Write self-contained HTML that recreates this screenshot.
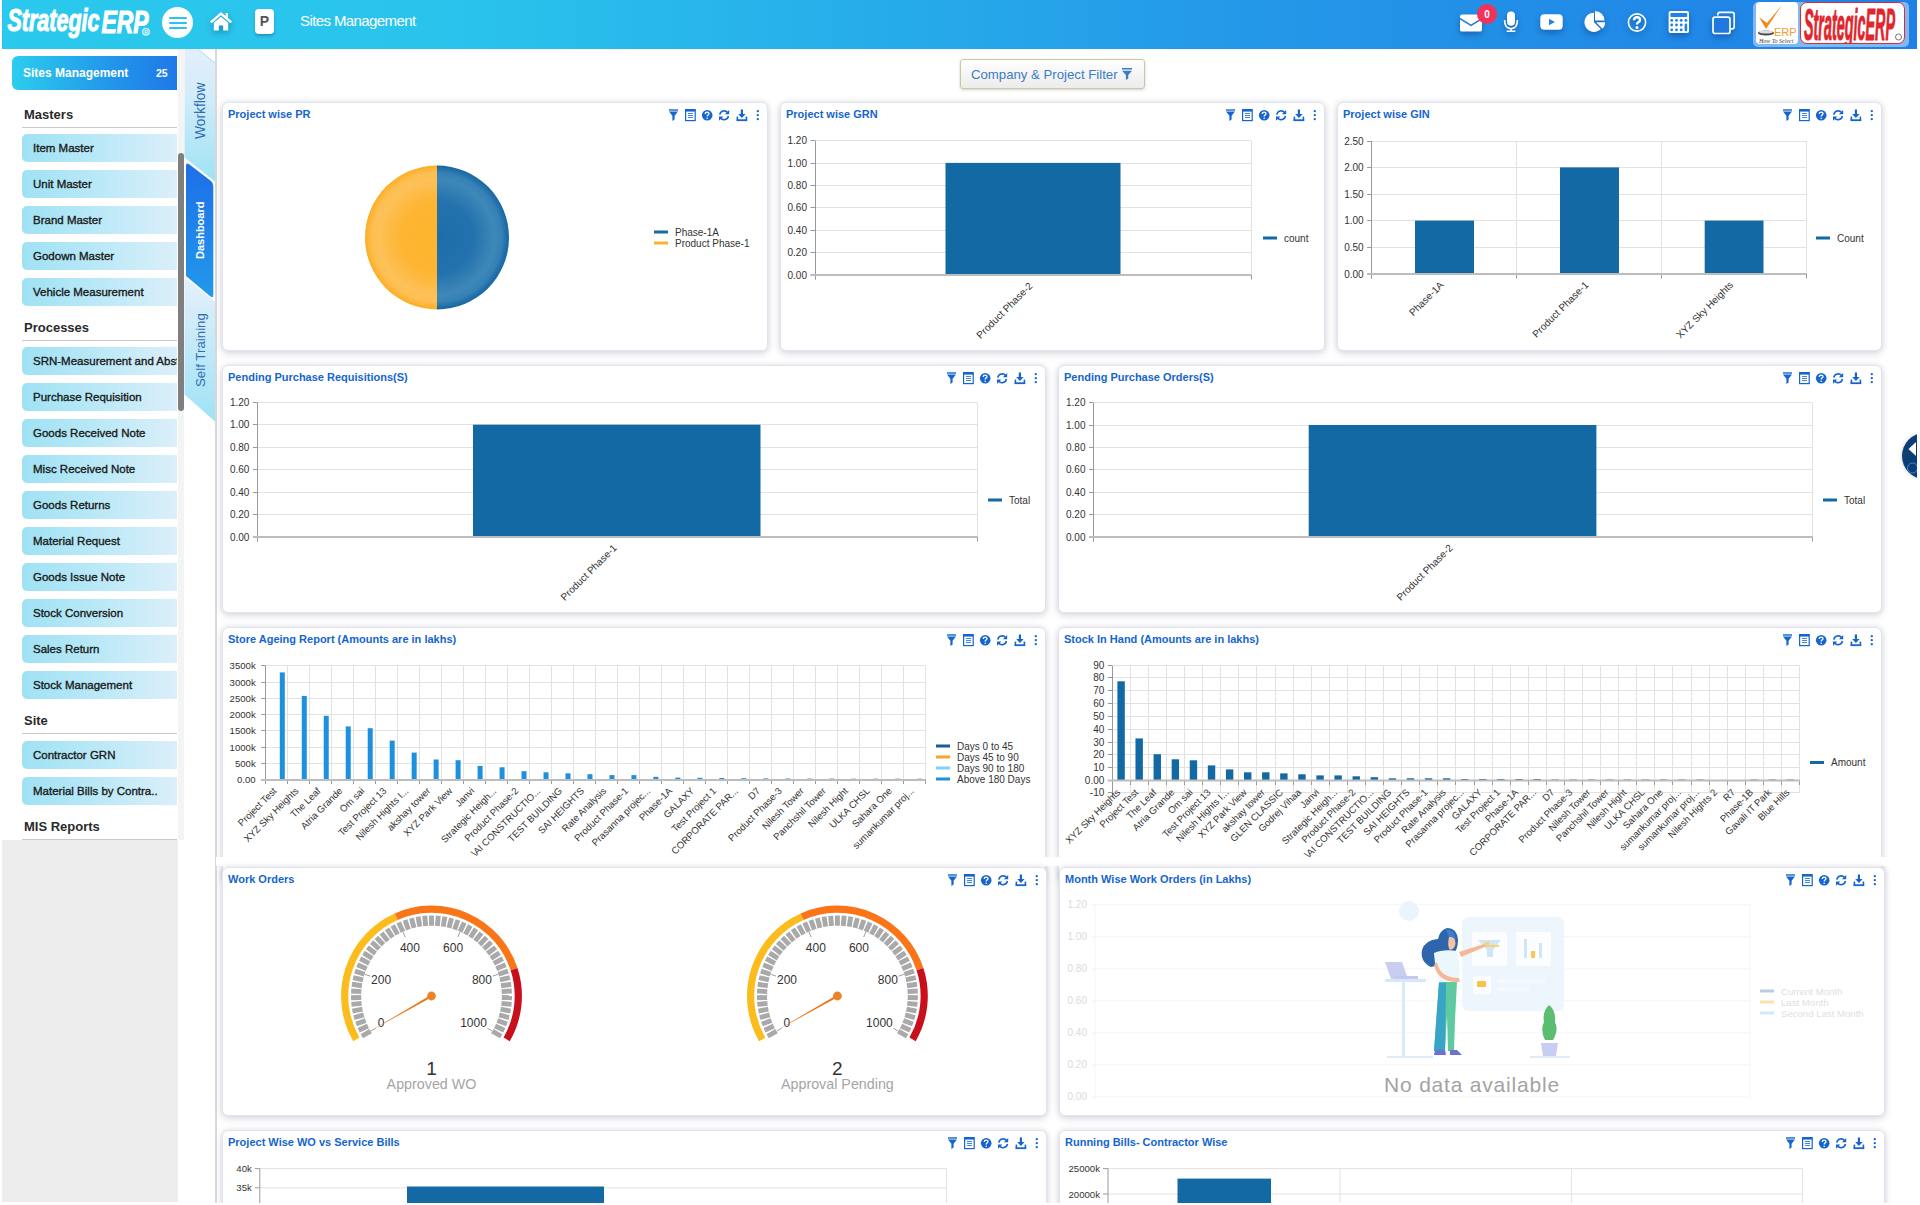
<!DOCTYPE html><html><head><meta charset='utf-8'><style>
*{box-sizing:border-box;margin:0;padding:0}
html,body{width:1920px;height:1205px;overflow:hidden;background:#fff;font-family:"Liberation Sans", sans-serif;position:relative}
.abs{position:absolute}
#hdr{position:absolute;left:2px;top:0;width:1915px;height:49px;background:linear-gradient(90deg,#2bc9ed 0%,#29c2ec 25%,#2498e8 65%,#1f80e6 100%);}
.hi{position:absolute;filter:drop-shadow(0 3px 3px rgba(0,30,90,.35))}
.sm{position:absolute;left:12px;top:56px;width:165px;height:34px;border-radius:6px 0 0 6px;background:linear-gradient(90deg,#2ccdee,#2196ea 60%,#1f78e8);color:#fff;font:bold 13px "Liberation Sans", sans-serif;}
.hd{position:absolute;left:22px;width:155px;height:21px;border-bottom:1px solid #c9c9c9;font:bold 13px "Liberation Sans", sans-serif;color:#2a2a2a;padding-left:2px;line-height:15px}
.it{position:absolute;left:22px;width:155px;height:28px;border-radius:5px 0 0 5px;background:linear-gradient(90deg,#9fe2f4 0%,#b8e8f7 45%,#dbeffa 100%);font:11.5px "Liberation Sans", sans-serif;-webkit-text-stroke:0.35px #1a1a1a;color:#1a1a1a;padding-left:11px;line-height:28px;white-space:nowrap;overflow:hidden}
.card{position:absolute;background:#fff;border:1px solid #e1e3f1;border-radius:6px;box-shadow:0 3px 8px rgba(20,20,50,0.12),0 0 5px 1px rgba(20,20,60,0.07);overflow:hidden}
.ct{position:absolute;left:5px;top:5px;font:bold 11px "Liberation Sans", sans-serif;color:#1565cf;white-space:nowrap}
</style></head><body>
<div id='hdr'></div>
<svg class='abs' style='left:0;top:0' width='160' height='45' viewBox='0 0 160 45'><text x='7.5' y='31.2' font-family='Liberation Sans' font-weight='bold' font-style='italic' font-size='31' fill='#fff' stroke='#fff' stroke-width='1.1' textLength='92' lengthAdjust='spacingAndGlyphs'>Strategic</text><text x='101.5' y='33.3' font-family='Liberation Sans' font-weight='bold' font-style='italic' font-size='30.5' fill='#fff' stroke='#fff' stroke-width='1.1' textLength='47' lengthAdjust='spacingAndGlyphs'>ERP</text><circle cx='146' cy='31.8' r='3.3' stroke='#fff' stroke-width='1.1' fill='none'/><text x='146' y='33.6' text-anchor='middle' font-family='Liberation Sans' font-weight='bold' font-size='5' fill='#fff'>R</text></svg>
<div class='abs' style='left:162px;top:7px;width:31px;height:31px;border-radius:50%;background:#fff'><div class='abs' style='left:6.5px;top:9.5px;width:18px;height:2.6px;border-radius:2px;background:#2bc3ec'></div><div class='abs' style='left:6.5px;top:14.5px;width:18px;height:2.6px;border-radius:2px;background:#2bc3ec'></div><div class='abs' style='left:6.5px;top:19.5px;width:18px;height:2.6px;border-radius:2px;background:#2bc3ec'></div></div>
<svg class='hi' style='left:209px;top:11px' width='24' height='20' viewBox='0 0 24 20'><path d='M12 1 L1 10.5 L2.6 12.2 L12 4.2 L21.4 12.2 L23 10.5 L19 7 L19 2 L16.6 2 L16.6 4.9 Z' fill='#fff'/><path d='M4.8 11.8 L12 5.8 L19.2 11.8 L19.2 19.5 L14.2 19.5 L14.2 14.5 L9.8 14.5 L9.8 19.5 L4.8 19.5 Z' fill='#fff'/></svg>
<div class='abs' style='left:255px;top:9px;width:19px;height:25px;border-radius:4px;background:#fff;box-shadow:0 2px 3px rgba(0,40,90,.3);font:bold 14px "Liberation Sans", sans-serif;color:#555;text-align:center;line-height:25px'>P</div>
<div class='abs' style='left:300px;top:12px;font:15px "Liberation Sans", sans-serif;color:#fff;white-space:nowrap;letter-spacing:-0.6px'>Sites Management</div>
<svg class='hi' style='left:1459px;top:14px' width='24' height='18' viewBox='0 0 24 18'><rect x='1' y='0.4' width='22' height='17.2' rx='2.2' fill='#fff'/><path d='M1 4.6 L12 11.4 L23 4.6' stroke='#2a78d8' stroke-width='1.7' fill='none' stroke-linejoin='round'/></svg>
<div class='abs' style='left:1477.2px;top:4.2px;width:19.7px;height:19.7px;border-radius:50%;background:#f1335b;color:#fff;font:bold 10px "Liberation Sans", sans-serif;text-align:center;line-height:22px'>0</div>
<svg class='hi' style='left:1503px;top:10.5px' width='16' height='22' viewBox='0 0 16 22'><rect x='4' y='0.5' width='8' height='14.3' rx='4' fill='#fff'/><path d='M1.6 9 Q1.6 17.6 8 17.6 Q14.4 17.6 14.4 9' stroke='#fff' stroke-width='1.6' fill='none'/><path d='M8 17.6 L8 20' stroke='#fff' stroke-width='1.6'/><path d='M3.6 20.2 L12.4 20.2' stroke='#fff' stroke-width='1.5'/></svg>
<svg class='hi' style='left:1540px;top:14px' width='23' height='16' viewBox='0 0 23 16'><rect x='0.3' y='0.3' width='22.4' height='15.4' rx='4' fill='#fff'/><path d='M9 4.8 L15 8 L9 11.2 Z' fill='#2285e6'/></svg>
<svg class='hi' style='left:1583px;top:10px' width='24' height='24' viewBox='0 0 24 24'><path d='M11 12.3 L11 2.7 A9.6 9.6 0 1 0 17.79 19.09 Z' fill='#fff'/><path d='M12 10.5 L12 1 A9.5 9.5 0 0 1 21.5 10.5 Z' fill='#fff'/><path d='M13 12.3 L22.2 12.3 A9.2 9.2 0 0 1 19.5 18.8 Z' fill='#fff'/></svg>
<svg class='hi' style='left:1627px;top:13px' width='20' height='19' viewBox='0 0 20 19'><circle cx='10' cy='9.5' r='8.6' stroke='#fff' stroke-width='1.6' fill='none'/><path d='M7 7.2 Q7 4.3 10 4.3 Q13 4.3 13 6.9 Q13 8.5 11.2 9.3 Q10 9.9 10 11.6' stroke='#fff' stroke-width='2.4' fill='none'/><circle cx='10' cy='14.4' r='1.5' fill='#fff'/></svg>
<svg class='hi' style='left:1668px;top:11px' width='22' height='23' viewBox='0 0 22 23'><rect x='0.6' y='0.1' width='20.4' height='21.9' rx='2' fill='#fff'/><rect x='2.4' y='2.1' width='16.8' height='4' rx='0.8' fill='#2281e8'/><circle cx='3.7' cy='9.4' r='1.45' fill='#2281e8'/><circle cx='8.5' cy='9.4' r='1.45' fill='#2281e8'/><circle cx='13.2' cy='9.4' r='1.45' fill='#2281e8'/><circle cx='17.9' cy='9.4' r='1.45' fill='#2281e8'/><circle cx='3.7' cy='14' r='1.45' fill='#2281e8'/><circle cx='8.5' cy='14' r='1.45' fill='#2281e8'/><circle cx='13.2' cy='14' r='1.45' fill='#2281e8'/><circle cx='3.7' cy='18.9' r='1.45' fill='#2281e8'/><circle cx='8.5' cy='18.9' r='1.45' fill='#2281e8'/><circle cx='13.2' cy='18.9' r='1.45' fill='#2281e8'/><rect x='16.6' y='12.6' width='2.6' height='7.8' rx='1.3' fill='#2281e8'/></svg>
<svg class='hi' style='left:1711px;top:10.5px' width='25' height='24' viewBox='0 0 25 24'><path d='M6.8 4.6 L6.8 3.4 Q6.8 1.3 8.9 1.3 L21.1 1.3 Q23.2 1.3 23.2 3.4 L23.2 15.7 Q23.2 17.8 21.1 17.8 L19.4 17.8' stroke='#fff' stroke-width='1.7' fill='none'/><rect x='2' y='6.1' width='17' height='16.4' rx='2.1' stroke='#fff' stroke-width='1.7' fill='#2178de'/></svg>
<div class='abs' style='left:1753px;top:2px;width:156px;height:45px;border-radius:5px;background:#80b8f4'></div>
<div class='abs' style='left:1756px;top:2px;width:42px;height:42px;border-radius:4px;background:#fff;overflow:hidden'><svg width='42' height='42' viewBox='0 0 42 42'><path d='M3 15 L10 27 L26 3 L11 21 Z' fill='#f08a1c'/><ellipse cx='10' cy='31' rx='8' ry='2.6' fill='#444'/><ellipse cx='10' cy='30' rx='7' ry='1.6' fill='#ddd'/><text x='18' y='34' font-family="Liberation Sans" font-size='11' fill='#f39c2a'>ERP</text><text x='3' y='41' font-family="Liberation Serif" font-style='italic' font-size='6' fill='#444'>How To Select</text></svg></div>
<div class='abs' style='left:1800px;top:2px;width:105px;height:42px;border-radius:7px;background:#fff;border:1.5px solid #e02a30;overflow:hidden'></div>
<svg class='abs' style='left:1800px;top:2px' width='105' height='42' viewBox='0 0 105 42'><text x='4' y='37.5' font-family='Liberation Sans' font-weight='bold' font-style='italic' font-size='45' fill='#e0262d' stroke='#e0262d' stroke-width='1' textLength='91' lengthAdjust='spacingAndGlyphs'>StrategicERP</text><circle cx='98.5' cy='35' r='3' stroke='#555' stroke-width='0.8' fill='none'/></svg>
<div class='sm'><span class='abs' style='left:11px;top:10px;font-size:12px'>Sites Management</span><span class='abs' style='left:144px;top:11px;font-size:10.5px'>25</span></div>
<div class='hd' style='top:107px'>Masters</div>
<div class='it' style='top:134px'>Item Master</div>
<div class='it' style='top:170px'>Unit Master</div>
<div class='it' style='top:206px'>Brand Master</div>
<div class='it' style='top:242px'>Godown Master</div>
<div class='it' style='top:278px'>Vehicle Measurement</div>
<div class='hd' style='top:320px'>Processes</div>
<div class='it' style='top:347px'>SRN-Measurement and Abstract</div>
<div class='it' style='top:383px'>Purchase Requisition</div>
<div class='it' style='top:419px'>Goods Received Note</div>
<div class='it' style='top:455px'>Misc Received Note</div>
<div class='it' style='top:491px'>Goods Returns</div>
<div class='it' style='top:527px'>Material Request</div>
<div class='it' style='top:563px'>Goods Issue Note</div>
<div class='it' style='top:599px'>Stock Conversion</div>
<div class='it' style='top:635px'>Sales Return</div>
<div class='it' style='top:671px'>Stock Management</div>
<div class='hd' style='top:713px'>Site</div>
<div class='it' style='top:740.5px'>Contractor GRN</div>
<div class='it' style='top:776.5px'>Material Bills by Contra..</div>
<div class='hd' style='top:819px'>MIS Reports</div>
<div class='abs' style='left:2px;top:840px;width:176px;height:362px;background:#eeeded'></div>
<div class='abs' style='left:178px;top:49px;width:6px;height:791px;background:#f4f4f4'></div>
<div class='abs' style='left:178px;top:153px;width:6px;height:258px;border-radius:3px;background:#7f7f7f'></div>
<div class='abs' style='left:185px;top:49px;width:30px;height:1156px;background:#fff'></div>
<div class='abs' style='left:214.5px;top:49px;width:2px;height:1156px;background:#d9d9d9'></div>
<svg class='abs' style='left:184px;top:49px' width='32' height='380' viewBox='184 49 32 380'><defs><linearGradient id='tg' x1='0' y1='0' x2='0' y2='1'><stop offset='0' stop-color='#e4eefb'/><stop offset='0.35' stop-color='#d2ecf9'/><stop offset='1' stop-color='#9de3f5'/></linearGradient><linearGradient id='tg2' x1='0' y1='0' x2='0' y2='1'><stop offset='0' stop-color='#e6f0fb'/><stop offset='0.4' stop-color='#c9eaf8'/><stop offset='1' stop-color='#9fe3f5'/></linearGradient><linearGradient id='dg' x1='0' y1='0' x2='0' y2='1'><stop offset='0' stop-color='#1e6fe8'/><stop offset='1' stop-color='#2299ea'/></linearGradient></defs><path d='M184.5 49 L198 49 L215 63 L215 181.5 L184.5 157.5 Z' fill='url(#tg)'/><path d='M198 49 L215 63' stroke='#8fdcf3' stroke-width='0.8'/><path d='M186 166 Q186 162 189.5 164.5 L211 181 Q213.3 183 213.3 186 L213.3 295 Q213.3 298.5 210.5 296.5 L186 276 Z' fill='url(#dg)'/><path d='M184.5 277.5 L215 301.5 L215 421.5 L184.5 394.5 Z' fill='url(#tg2)'/></svg>
<div class='abs' style='left:192.5px;top:138.5px;transform:rotate(-90deg);transform-origin:0 0;font:13.8px "Liberation Sans", sans-serif;line-height:16px;color:#2f6db5;white-space:nowrap'>Workflow</div>
<div class='abs' style='left:192.5px;top:258.5px;transform:rotate(-90deg);transform-origin:0 0;font:bold 11px "Liberation Sans", sans-serif;line-height:14px;color:#fff;white-space:nowrap'>Dashboard</div>
<div class='abs' style='left:192.5px;top:386.5px;transform:rotate(-90deg);transform-origin:0 0;font:13.3px "Liberation Sans", sans-serif;line-height:16px;color:#2f6db5;white-space:nowrap'>Self Training</div>
<div class='abs' style='left:960px;top:59px;width:185px;height:30px;border:1px solid #c8c8a2;border-radius:3px;background:linear-gradient(#ffffff,#ececec);box-shadow:0 1px 3px rgba(0,0,0,.18)'><span class='abs' style='left:10px;top:7px;font:13.2px "Liberation Sans", sans-serif;color:#3b7cc7;white-space:nowrap'>Company &amp; Project Filter</span><svg class='abs' style='left:161px;top:8px' width='10' height='12' viewBox='0 0 10 12'><rect x='0' y='0' width='10' height='1.5' fill='#3b7cc7'/><path d='M0 2.8 L10 2.8 L6.3 7 L6.3 10.6 L3.9 12 L3.9 7 Z' fill='#3b7cc7'/></svg></div>
<div class='card' style='left:222px;top:102px;width:546px;height:249px;'><div class='ct'>Project wise PR</div><svg class='abs' style='left:-1px;top:-1px' width='546' height='249' viewBox='222 102 546 249' font-family="Liberation Sans" font-size='10' fill='#333'><defs><radialGradient id='po' cx='437' cy='237.5' r='72' gradientUnits='userSpaceOnUse'><stop offset='0' stop-color='#fdb42e'/><stop offset='0.5' stop-color='#fdb532'/><stop offset='0.8' stop-color='#fdc158'/><stop offset='0.9' stop-color='#fdbf52'/><stop offset='1' stop-color='#fbae22'/></radialGradient><radialGradient id='pb' cx='437' cy='237.5' r='72' gradientUnits='userSpaceOnUse'><stop offset='0' stop-color='#1c6eaa'/><stop offset='0.5' stop-color='#2372ad'/><stop offset='0.8' stop-color='#3e88b9'/><stop offset='0.9' stop-color='#3580b5'/><stop offset='1' stop-color='#1565a3'/></radialGradient></defs><path d='M437 165.5 A72 72 0 0 0 437 309.5 Z' fill='url(#po)'/><path d='M437 165.5 A72 72 0 0 1 437 309.5 Z' fill='url(#pb)'/><rect x='654' y='230.5' width='14' height='3' fill='#1b6aa5'/><text x='675' y='235.5' font-size='10'>Phase-1A</text><rect x='654' y='241.5' width='14' height='3' fill='#fbb22e'/><text x='675' y='246.5' font-size='10'>Product Phase-1</text></svg></div><svg class='abs' style='left:668px;top:109px' width='92' height='13' viewBox='0 0 92 13'><g fill='#1565cf' stroke='none'><rect x='1' y='0.3' width='9' height='1.4'/><path d='M1 2.6 L10 2.6 L6.6 6.8 L6.6 10.6 L4.4 12 L4.4 6.8 Z'/><rect x='17.6' y='0.6' width='9.6' height='11' fill='none' stroke='#1565cf' stroke-width='1.2'/><rect x='17.6' y='0.6' width='9.6' height='2'/><rect x='20' y='4' width='5' height='1' opacity='.8'/><rect x='20' y='6' width='5' height='1' opacity='.8'/><rect x='20' y='8' width='5' height='1' opacity='.8'/><circle cx='39.2' cy='6.2' r='5.3'/></g><path d='M37.3 4.9 Q37.3 3.1 39.2 3.1 Q41 3.1 41 4.6 Q41 5.6 39.9 6.1 Q39.2 6.5 39.2 7.5' stroke='#fff' stroke-width='1.3' fill='none'/><circle cx='39.2' cy='9.2' r='0.8' fill='#fff'/><path d='M51.8 5.6 A4.4 4.4 0 0 1 59.6 3.6' stroke='#1565cf' stroke-width='1.6' fill='none'/><path d='M61.2 0.9 L61.2 5.2 L56.9 5.2 Z' fill='#1565cf'/><path d='M60.4 7 A4.4 4.4 0 0 1 52.6 9' stroke='#1565cf' stroke-width='1.6' fill='none'/><path d='M51 11.7 L51 7.4 L55.3 7.4 Z' fill='#1565cf'/><g fill='#1565cf'><rect x='72.8' y='0.5' width='2.2' height='5'/><path d='M70.2 5 L77.6 5 L73.9 9 Z'/><rect x='68.6' y='10.3' width='10.6' height='1.8'/><rect x='68.6' y='7.6' width='1.6' height='4'/><rect x='77.6' y='7.6' width='1.6' height='4'/><circle cx='89.8' cy='2.2' r='1.15'/><circle cx='89.8' cy='6.2' r='1.15'/><circle cx='89.8' cy='10.2' r='1.15'/></g></svg>
<div class='card' style='left:780px;top:102px;width:545px;height:249px;'><div class='ct'>Project wise GRN</div><svg class='abs' style='left:-1px;top:-1px' width='545' height='249' viewBox='780 102 545 249' font-family="Liberation Sans" font-size='10' fill='#333'><line x1='815.00' y1='140.5' x2='1251.00' y2='140.5' stroke='#e2e2e2' stroke-width='1'/><line x1='810.50' y1='140.5' x2='815.00' y2='140.5' stroke='#9a9a9a' stroke-width='1'/><text x='807' y='144.3' text-anchor='end' font-size='10'>1.20</text><line x1='815.00' y1='163.5' x2='1251.00' y2='163.5' stroke='#e2e2e2' stroke-width='1'/><line x1='810.50' y1='163.5' x2='815.00' y2='163.5' stroke='#9a9a9a' stroke-width='1'/><text x='807' y='166.7' text-anchor='end' font-size='10'>1.00</text><line x1='815.00' y1='185.5' x2='1251.00' y2='185.5' stroke='#e2e2e2' stroke-width='1'/><line x1='810.50' y1='185.5' x2='815.00' y2='185.5' stroke='#9a9a9a' stroke-width='1'/><text x='807' y='189.0' text-anchor='end' font-size='10'>0.80</text><line x1='815.00' y1='207.5' x2='1251.00' y2='207.5' stroke='#e2e2e2' stroke-width='1'/><line x1='810.50' y1='207.5' x2='815.00' y2='207.5' stroke='#9a9a9a' stroke-width='1'/><text x='807' y='211.4' text-anchor='end' font-size='10'>0.60</text><line x1='815.00' y1='230.5' x2='1251.00' y2='230.5' stroke='#e2e2e2' stroke-width='1'/><line x1='810.50' y1='230.5' x2='815.00' y2='230.5' stroke='#9a9a9a' stroke-width='1'/><text x='807' y='233.8' text-anchor='end' font-size='10'>0.40</text><line x1='815.00' y1='252.5' x2='1251.00' y2='252.5' stroke='#e2e2e2' stroke-width='1'/><line x1='810.50' y1='252.5' x2='815.00' y2='252.5' stroke='#9a9a9a' stroke-width='1'/><text x='807' y='256.2' text-anchor='end' font-size='10'>0.20</text><line x1='815.00' y1='275.5' x2='1251.00' y2='275.5' stroke='#e2e2e2' stroke-width='1'/><line x1='810.50' y1='275.5' x2='815.00' y2='275.5' stroke='#9a9a9a' stroke-width='1'/><text x='807' y='278.5' text-anchor='end' font-size='10'>0.00</text><line x1='815.5' y1='140.80' x2='815.5' y2='275.00' stroke='#e2e2e2' stroke-width='1'/><line x1='815.5' y1='275.00' x2='815.5' y2='279.50' stroke='#9a9a9a' stroke-width='1'/><line x1='1251.5' y1='140.80' x2='1251.5' y2='275.00' stroke='#e2e2e2' stroke-width='1'/><line x1='1251.5' y1='275.00' x2='1251.5' y2='279.50' stroke='#9a9a9a' stroke-width='1'/><line x1='815.5' y1='140.80' x2='815.5' y2='279.50' stroke='#999' stroke-width='1'/><rect x='945.50' y='162.90' width='175.00' height='112.10' fill='#1269a3'/><rect x='810.50' y='274' width='441.00' height='2' fill='#bdbdbd'/><text x='1033.30' y='286.50' text-anchor='end' font-size='10' transform='rotate(-45 1033.30 286.50)'>Product Phase-2</text><rect x='1263' y='236.5' width='14' height='3' fill='#1269a3'/><text x='1284' y='241.5' font-size='10'>count</text></svg></div><svg class='abs' style='left:1225px;top:109px' width='92' height='13' viewBox='0 0 92 13'><g fill='#1565cf' stroke='none'><rect x='1' y='0.3' width='9' height='1.4'/><path d='M1 2.6 L10 2.6 L6.6 6.8 L6.6 10.6 L4.4 12 L4.4 6.8 Z'/><rect x='17.6' y='0.6' width='9.6' height='11' fill='none' stroke='#1565cf' stroke-width='1.2'/><rect x='17.6' y='0.6' width='9.6' height='2'/><rect x='20' y='4' width='5' height='1' opacity='.8'/><rect x='20' y='6' width='5' height='1' opacity='.8'/><rect x='20' y='8' width='5' height='1' opacity='.8'/><circle cx='39.2' cy='6.2' r='5.3'/></g><path d='M37.3 4.9 Q37.3 3.1 39.2 3.1 Q41 3.1 41 4.6 Q41 5.6 39.9 6.1 Q39.2 6.5 39.2 7.5' stroke='#fff' stroke-width='1.3' fill='none'/><circle cx='39.2' cy='9.2' r='0.8' fill='#fff'/><path d='M51.8 5.6 A4.4 4.4 0 0 1 59.6 3.6' stroke='#1565cf' stroke-width='1.6' fill='none'/><path d='M61.2 0.9 L61.2 5.2 L56.9 5.2 Z' fill='#1565cf'/><path d='M60.4 7 A4.4 4.4 0 0 1 52.6 9' stroke='#1565cf' stroke-width='1.6' fill='none'/><path d='M51 11.7 L51 7.4 L55.3 7.4 Z' fill='#1565cf'/><g fill='#1565cf'><rect x='72.8' y='0.5' width='2.2' height='5'/><path d='M70.2 5 L77.6 5 L73.9 9 Z'/><rect x='68.6' y='10.3' width='10.6' height='1.8'/><rect x='68.6' y='7.6' width='1.6' height='4'/><rect x='77.6' y='7.6' width='1.6' height='4'/><circle cx='89.8' cy='2.2' r='1.15'/><circle cx='89.8' cy='6.2' r='1.15'/><circle cx='89.8' cy='10.2' r='1.15'/></g></svg>
<div class='card' style='left:1337px;top:102px;width:545px;height:249px;'><div class='ct'>Project wise GIN</div><svg class='abs' style='left:-1px;top:-1px' width='545' height='249' viewBox='1337 102 545 249' font-family="Liberation Sans" font-size='10' fill='#333'><line x1='1371.60' y1='141.5' x2='1806.00' y2='141.5' stroke='#e2e2e2' stroke-width='1'/><line x1='1367.10' y1='141.5' x2='1371.60' y2='141.5' stroke='#9a9a9a' stroke-width='1'/><text x='1363.6' y='144.5' text-anchor='end' font-size='10'>2.50</text><line x1='1371.60' y1='167.5' x2='1806.00' y2='167.5' stroke='#e2e2e2' stroke-width='1'/><line x1='1367.10' y1='167.5' x2='1371.60' y2='167.5' stroke='#9a9a9a' stroke-width='1'/><text x='1363.6' y='171.1' text-anchor='end' font-size='10'>2.00</text><line x1='1371.60' y1='194.5' x2='1806.00' y2='194.5' stroke='#e2e2e2' stroke-width='1'/><line x1='1367.10' y1='194.5' x2='1371.60' y2='194.5' stroke='#9a9a9a' stroke-width='1'/><text x='1363.6' y='197.7' text-anchor='end' font-size='10'>1.50</text><line x1='1371.60' y1='220.5' x2='1806.00' y2='220.5' stroke='#e2e2e2' stroke-width='1'/><line x1='1367.10' y1='220.5' x2='1371.60' y2='220.5' stroke='#9a9a9a' stroke-width='1'/><text x='1363.6' y='224.3' text-anchor='end' font-size='10'>1.00</text><line x1='1371.60' y1='247.5' x2='1806.00' y2='247.5' stroke='#e2e2e2' stroke-width='1'/><line x1='1367.10' y1='247.5' x2='1371.60' y2='247.5' stroke='#9a9a9a' stroke-width='1'/><text x='1363.6' y='250.9' text-anchor='end' font-size='10'>0.50</text><line x1='1371.60' y1='274.5' x2='1806.00' y2='274.5' stroke='#e2e2e2' stroke-width='1'/><line x1='1367.10' y1='274.5' x2='1371.60' y2='274.5' stroke='#9a9a9a' stroke-width='1'/><text x='1363.6' y='277.5' text-anchor='end' font-size='10'>0.00</text><line x1='1371.5' y1='141.00' x2='1371.5' y2='274.00' stroke='#e2e2e2' stroke-width='1'/><line x1='1371.5' y1='274.00' x2='1371.5' y2='278.50' stroke='#9a9a9a' stroke-width='1'/><line x1='1516.5' y1='141.00' x2='1516.5' y2='274.00' stroke='#e2e2e2' stroke-width='1'/><line x1='1516.5' y1='274.00' x2='1516.5' y2='278.50' stroke='#9a9a9a' stroke-width='1'/><line x1='1661.5' y1='141.00' x2='1661.5' y2='274.00' stroke='#e2e2e2' stroke-width='1'/><line x1='1661.5' y1='274.00' x2='1661.5' y2='278.50' stroke='#9a9a9a' stroke-width='1'/><line x1='1806.5' y1='141.00' x2='1806.5' y2='274.00' stroke='#e2e2e2' stroke-width='1'/><line x1='1806.5' y1='274.00' x2='1806.5' y2='278.50' stroke='#9a9a9a' stroke-width='1'/><line x1='1371.5' y1='141.00' x2='1371.5' y2='278.50' stroke='#999' stroke-width='1'/><rect x='1415.00' y='220.60' width='59.00' height='53.40' fill='#1269a3'/><rect x='1560.00' y='167.40' width='59.00' height='106.60' fill='#1269a3'/><rect x='1704.70' y='220.60' width='58.80' height='53.40' fill='#1269a3'/><rect x='1367.10' y='273' width='439.40' height='2' fill='#bdbdbd'/><text x='1444.30' y='285.50' text-anchor='end' font-size='10' transform='rotate(-45 1444.30 285.50)'>Phase-1A</text><text x='1589.10' y='285.50' text-anchor='end' font-size='10' transform='rotate(-45 1589.10 285.50)'>Product Phase-1</text><text x='1733.90' y='285.50' text-anchor='end' font-size='10' transform='rotate(-45 1733.90 285.50)'>XYZ Sky Heights</text><rect x='1816' y='236.5' width='14' height='3' fill='#1269a3'/><text x='1837' y='241.5' font-size='10'>Count</text></svg></div><svg class='abs' style='left:1782px;top:109px' width='92' height='13' viewBox='0 0 92 13'><g fill='#1565cf' stroke='none'><rect x='1' y='0.3' width='9' height='1.4'/><path d='M1 2.6 L10 2.6 L6.6 6.8 L6.6 10.6 L4.4 12 L4.4 6.8 Z'/><rect x='17.6' y='0.6' width='9.6' height='11' fill='none' stroke='#1565cf' stroke-width='1.2'/><rect x='17.6' y='0.6' width='9.6' height='2'/><rect x='20' y='4' width='5' height='1' opacity='.8'/><rect x='20' y='6' width='5' height='1' opacity='.8'/><rect x='20' y='8' width='5' height='1' opacity='.8'/><circle cx='39.2' cy='6.2' r='5.3'/></g><path d='M37.3 4.9 Q37.3 3.1 39.2 3.1 Q41 3.1 41 4.6 Q41 5.6 39.9 6.1 Q39.2 6.5 39.2 7.5' stroke='#fff' stroke-width='1.3' fill='none'/><circle cx='39.2' cy='9.2' r='0.8' fill='#fff'/><path d='M51.8 5.6 A4.4 4.4 0 0 1 59.6 3.6' stroke='#1565cf' stroke-width='1.6' fill='none'/><path d='M61.2 0.9 L61.2 5.2 L56.9 5.2 Z' fill='#1565cf'/><path d='M60.4 7 A4.4 4.4 0 0 1 52.6 9' stroke='#1565cf' stroke-width='1.6' fill='none'/><path d='M51 11.7 L51 7.4 L55.3 7.4 Z' fill='#1565cf'/><g fill='#1565cf'><rect x='72.8' y='0.5' width='2.2' height='5'/><path d='M70.2 5 L77.6 5 L73.9 9 Z'/><rect x='68.6' y='10.3' width='10.6' height='1.8'/><rect x='68.6' y='7.6' width='1.6' height='4'/><rect x='77.6' y='7.6' width='1.6' height='4'/><circle cx='89.8' cy='2.2' r='1.15'/><circle cx='89.8' cy='6.2' r='1.15'/><circle cx='89.8' cy='10.2' r='1.15'/></g></svg>
<div class='card' style='left:222px;top:365px;width:824px;height:248px;'><div class='ct'>Pending Purchase Requisitions(S)</div><svg class='abs' style='left:-1px;top:-1px' width='824' height='248' viewBox='222 365 824 248' font-family="Liberation Sans" font-size='10' fill='#333'><line x1='257.40' y1='402.5' x2='977.00' y2='402.5' stroke='#e2e2e2' stroke-width='1'/><line x1='252.90' y1='402.5' x2='257.40' y2='402.5' stroke='#9a9a9a' stroke-width='1'/><text x='249.39999999999998' y='405.8' text-anchor='end' font-size='10'>1.20</text><line x1='257.40' y1='424.5' x2='977.00' y2='424.5' stroke='#e2e2e2' stroke-width='1'/><line x1='252.90' y1='424.5' x2='257.40' y2='424.5' stroke='#9a9a9a' stroke-width='1'/><text x='249.39999999999998' y='428.3' text-anchor='end' font-size='10'>1.00</text><line x1='257.40' y1='447.5' x2='977.00' y2='447.5' stroke='#e2e2e2' stroke-width='1'/><line x1='252.90' y1='447.5' x2='257.40' y2='447.5' stroke='#9a9a9a' stroke-width='1'/><text x='249.39999999999998' y='450.7' text-anchor='end' font-size='10'>0.80</text><line x1='257.40' y1='469.5' x2='977.00' y2='469.5' stroke='#e2e2e2' stroke-width='1'/><line x1='252.90' y1='469.5' x2='257.40' y2='469.5' stroke='#9a9a9a' stroke-width='1'/><text x='249.39999999999998' y='473.1' text-anchor='end' font-size='10'>0.60</text><line x1='257.40' y1='492.5' x2='977.00' y2='492.5' stroke='#e2e2e2' stroke-width='1'/><line x1='252.90' y1='492.5' x2='257.40' y2='492.5' stroke='#9a9a9a' stroke-width='1'/><text x='249.39999999999998' y='495.6' text-anchor='end' font-size='10'>0.40</text><line x1='257.40' y1='514.5' x2='977.00' y2='514.5' stroke='#e2e2e2' stroke-width='1'/><line x1='252.90' y1='514.5' x2='257.40' y2='514.5' stroke='#9a9a9a' stroke-width='1'/><text x='249.39999999999998' y='518.0' text-anchor='end' font-size='10'>0.20</text><line x1='257.40' y1='537.5' x2='977.00' y2='537.5' stroke='#e2e2e2' stroke-width='1'/><line x1='252.90' y1='537.5' x2='257.40' y2='537.5' stroke='#9a9a9a' stroke-width='1'/><text x='249.39999999999998' y='540.5' text-anchor='end' font-size='10'>0.00</text><line x1='257.5' y1='402.30' x2='257.5' y2='537.00' stroke='#e2e2e2' stroke-width='1'/><line x1='257.5' y1='537.00' x2='257.5' y2='541.50' stroke='#9a9a9a' stroke-width='1'/><line x1='977.5' y1='402.30' x2='977.5' y2='537.00' stroke='#e2e2e2' stroke-width='1'/><line x1='977.5' y1='537.00' x2='977.5' y2='541.50' stroke='#9a9a9a' stroke-width='1'/><line x1='257.5' y1='402.30' x2='257.5' y2='541.50' stroke='#999' stroke-width='1'/><rect x='473.00' y='424.70' width='287.50' height='112.30' fill='#1269a3'/><rect x='252.90' y='536' width='724.60' height='2' fill='#bdbdbd'/><text x='617.50' y='548.50' text-anchor='end' font-size='10' transform='rotate(-45 617.50 548.50)'>Product Phase-1</text><rect x='988' y='498.5' width='14' height='3' fill='#1269a3'/><text x='1009' y='503.5' font-size='10'>Total</text></svg></div><svg class='abs' style='left:946px;top:372px' width='92' height='13' viewBox='0 0 92 13'><g fill='#1565cf' stroke='none'><rect x='1' y='0.3' width='9' height='1.4'/><path d='M1 2.6 L10 2.6 L6.6 6.8 L6.6 10.6 L4.4 12 L4.4 6.8 Z'/><rect x='17.6' y='0.6' width='9.6' height='11' fill='none' stroke='#1565cf' stroke-width='1.2'/><rect x='17.6' y='0.6' width='9.6' height='2'/><rect x='20' y='4' width='5' height='1' opacity='.8'/><rect x='20' y='6' width='5' height='1' opacity='.8'/><rect x='20' y='8' width='5' height='1' opacity='.8'/><circle cx='39.2' cy='6.2' r='5.3'/></g><path d='M37.3 4.9 Q37.3 3.1 39.2 3.1 Q41 3.1 41 4.6 Q41 5.6 39.9 6.1 Q39.2 6.5 39.2 7.5' stroke='#fff' stroke-width='1.3' fill='none'/><circle cx='39.2' cy='9.2' r='0.8' fill='#fff'/><path d='M51.8 5.6 A4.4 4.4 0 0 1 59.6 3.6' stroke='#1565cf' stroke-width='1.6' fill='none'/><path d='M61.2 0.9 L61.2 5.2 L56.9 5.2 Z' fill='#1565cf'/><path d='M60.4 7 A4.4 4.4 0 0 1 52.6 9' stroke='#1565cf' stroke-width='1.6' fill='none'/><path d='M51 11.7 L51 7.4 L55.3 7.4 Z' fill='#1565cf'/><g fill='#1565cf'><rect x='72.8' y='0.5' width='2.2' height='5'/><path d='M70.2 5 L77.6 5 L73.9 9 Z'/><rect x='68.6' y='10.3' width='10.6' height='1.8'/><rect x='68.6' y='7.6' width='1.6' height='4'/><rect x='77.6' y='7.6' width='1.6' height='4'/><circle cx='89.8' cy='2.2' r='1.15'/><circle cx='89.8' cy='6.2' r='1.15'/><circle cx='89.8' cy='10.2' r='1.15'/></g></svg>
<div class='card' style='left:1058px;top:365px;width:824px;height:248px;'><div class='ct'>Pending Purchase Orders(S)</div><svg class='abs' style='left:-1px;top:-1px' width='824' height='248' viewBox='1058 365 824 248' font-family="Liberation Sans" font-size='10' fill='#333'><line x1='1093.50' y1='402.5' x2='1812.60' y2='402.5' stroke='#e2e2e2' stroke-width='1'/><line x1='1089.00' y1='402.5' x2='1093.50' y2='402.5' stroke='#9a9a9a' stroke-width='1'/><text x='1085.5' y='406.1' text-anchor='end' font-size='10'>1.20</text><line x1='1093.50' y1='425.5' x2='1812.60' y2='425.5' stroke='#e2e2e2' stroke-width='1'/><line x1='1089.00' y1='425.5' x2='1093.50' y2='425.5' stroke='#9a9a9a' stroke-width='1'/><text x='1085.5' y='428.5' text-anchor='end' font-size='10'>1.00</text><line x1='1093.50' y1='447.5' x2='1812.60' y2='447.5' stroke='#e2e2e2' stroke-width='1'/><line x1='1089.00' y1='447.5' x2='1093.50' y2='447.5' stroke='#9a9a9a' stroke-width='1'/><text x='1085.5' y='450.9' text-anchor='end' font-size='10'>0.80</text><line x1='1093.50' y1='469.5' x2='1812.60' y2='469.5' stroke='#e2e2e2' stroke-width='1'/><line x1='1089.00' y1='469.5' x2='1093.50' y2='469.5' stroke='#9a9a9a' stroke-width='1'/><text x='1085.5' y='473.3' text-anchor='end' font-size='10'>0.60</text><line x1='1093.50' y1='492.5' x2='1812.60' y2='492.5' stroke='#e2e2e2' stroke-width='1'/><line x1='1089.00' y1='492.5' x2='1093.50' y2='492.5' stroke='#9a9a9a' stroke-width='1'/><text x='1085.5' y='495.7' text-anchor='end' font-size='10'>0.40</text><line x1='1093.50' y1='514.5' x2='1812.60' y2='514.5' stroke='#e2e2e2' stroke-width='1'/><line x1='1089.00' y1='514.5' x2='1093.50' y2='514.5' stroke='#9a9a9a' stroke-width='1'/><text x='1085.5' y='518.1' text-anchor='end' font-size='10'>0.20</text><line x1='1093.50' y1='537.5' x2='1812.60' y2='537.5' stroke='#e2e2e2' stroke-width='1'/><line x1='1089.00' y1='537.5' x2='1093.50' y2='537.5' stroke='#9a9a9a' stroke-width='1'/><text x='1085.5' y='540.5' text-anchor='end' font-size='10'>0.00</text><line x1='1093.5' y1='402.60' x2='1093.5' y2='537.00' stroke='#e2e2e2' stroke-width='1'/><line x1='1093.5' y1='537.00' x2='1093.5' y2='541.50' stroke='#9a9a9a' stroke-width='1'/><line x1='1812.5' y1='402.60' x2='1812.5' y2='537.00' stroke='#e2e2e2' stroke-width='1'/><line x1='1812.5' y1='537.00' x2='1812.5' y2='541.50' stroke='#9a9a9a' stroke-width='1'/><line x1='1093.5' y1='402.60' x2='1093.5' y2='541.50' stroke='#999' stroke-width='1'/><rect x='1308.70' y='425.00' width='287.70' height='112.00' fill='#1269a3'/><rect x='1089.00' y='536' width='724.10' height='2' fill='#bdbdbd'/><text x='1453.35' y='548.50' text-anchor='end' font-size='10' transform='rotate(-45 1453.35 548.50)'>Product Phase-2</text><rect x='1823' y='498.5' width='14' height='3' fill='#1269a3'/><text x='1844' y='503.5' font-size='10'>Total</text></svg></div><svg class='abs' style='left:1782px;top:372px' width='92' height='13' viewBox='0 0 92 13'><g fill='#1565cf' stroke='none'><rect x='1' y='0.3' width='9' height='1.4'/><path d='M1 2.6 L10 2.6 L6.6 6.8 L6.6 10.6 L4.4 12 L4.4 6.8 Z'/><rect x='17.6' y='0.6' width='9.6' height='11' fill='none' stroke='#1565cf' stroke-width='1.2'/><rect x='17.6' y='0.6' width='9.6' height='2'/><rect x='20' y='4' width='5' height='1' opacity='.8'/><rect x='20' y='6' width='5' height='1' opacity='.8'/><rect x='20' y='8' width='5' height='1' opacity='.8'/><circle cx='39.2' cy='6.2' r='5.3'/></g><path d='M37.3 4.9 Q37.3 3.1 39.2 3.1 Q41 3.1 41 4.6 Q41 5.6 39.9 6.1 Q39.2 6.5 39.2 7.5' stroke='#fff' stroke-width='1.3' fill='none'/><circle cx='39.2' cy='9.2' r='0.8' fill='#fff'/><path d='M51.8 5.6 A4.4 4.4 0 0 1 59.6 3.6' stroke='#1565cf' stroke-width='1.6' fill='none'/><path d='M61.2 0.9 L61.2 5.2 L56.9 5.2 Z' fill='#1565cf'/><path d='M60.4 7 A4.4 4.4 0 0 1 52.6 9' stroke='#1565cf' stroke-width='1.6' fill='none'/><path d='M51 11.7 L51 7.4 L55.3 7.4 Z' fill='#1565cf'/><g fill='#1565cf'><rect x='72.8' y='0.5' width='2.2' height='5'/><path d='M70.2 5 L77.6 5 L73.9 9 Z'/><rect x='68.6' y='10.3' width='10.6' height='1.8'/><rect x='68.6' y='7.6' width='1.6' height='4'/><rect x='77.6' y='7.6' width='1.6' height='4'/><circle cx='89.8' cy='2.2' r='1.15'/><circle cx='89.8' cy='6.2' r='1.15'/><circle cx='89.8' cy='10.2' r='1.15'/></g></svg>
<div class='card' style='left:222px;top:627px;width:824px;height:253px;'><div class='ct'>Store Ageing Report (Amounts are in lakhs)</div><svg class='abs' style='left:-1px;top:-1px' width='824' height='253' viewBox='222 627 824 253' font-family="Liberation Sans" font-size='10' fill='#333'><line x1='265.70' y1='665.5' x2='925.00' y2='665.5' stroke='#e2e2e2' stroke-width='1'/><line x1='261.20' y1='665.5' x2='265.70' y2='665.5' stroke='#9a9a9a' stroke-width='1'/><text x='255.7' y='669.2' text-anchor='end' font-size='9.6'>3500k</text><line x1='265.70' y1='682.5' x2='925.00' y2='682.5' stroke='#e2e2e2' stroke-width='1'/><line x1='261.20' y1='682.5' x2='265.70' y2='682.5' stroke='#9a9a9a' stroke-width='1'/><text x='255.7' y='685.5' text-anchor='end' font-size='9.6'>3000k</text><line x1='265.70' y1='698.5' x2='925.00' y2='698.5' stroke='#e2e2e2' stroke-width='1'/><line x1='261.20' y1='698.5' x2='265.70' y2='698.5' stroke='#9a9a9a' stroke-width='1'/><text x='255.7' y='701.7' text-anchor='end' font-size='9.6'>2500k</text><line x1='265.70' y1='714.5' x2='925.00' y2='714.5' stroke='#e2e2e2' stroke-width='1'/><line x1='261.20' y1='714.5' x2='265.70' y2='714.5' stroke='#9a9a9a' stroke-width='1'/><text x='255.7' y='718.0' text-anchor='end' font-size='9.6'>2000k</text><line x1='265.70' y1='730.5' x2='925.00' y2='730.5' stroke='#e2e2e2' stroke-width='1'/><line x1='261.20' y1='730.5' x2='265.70' y2='730.5' stroke='#9a9a9a' stroke-width='1'/><text x='255.7' y='734.2' text-anchor='end' font-size='9.6'>1500k</text><line x1='265.70' y1='747.5' x2='925.00' y2='747.5' stroke='#e2e2e2' stroke-width='1'/><line x1='261.20' y1='747.5' x2='265.70' y2='747.5' stroke='#9a9a9a' stroke-width='1'/><text x='255.7' y='750.5' text-anchor='end' font-size='9.6'>1000k</text><line x1='265.70' y1='763.5' x2='925.00' y2='763.5' stroke='#e2e2e2' stroke-width='1'/><line x1='261.20' y1='763.5' x2='265.70' y2='763.5' stroke='#9a9a9a' stroke-width='1'/><text x='255.7' y='766.8' text-anchor='end' font-size='9.6'>500k</text><line x1='265.70' y1='779.5' x2='925.00' y2='779.5' stroke='#e2e2e2' stroke-width='1'/><line x1='261.20' y1='779.5' x2='265.70' y2='779.5' stroke='#9a9a9a' stroke-width='1'/><text x='255.7' y='783.0' text-anchor='end' font-size='9.6'>0.00</text><line x1='265.5' y1='665.70' x2='265.5' y2='779.50' stroke='#e2e2e2' stroke-width='1'/><line x1='265.5' y1='779.50' x2='265.5' y2='784.00' stroke='#9a9a9a' stroke-width='1'/><line x1='287.5' y1='665.70' x2='287.5' y2='779.50' stroke='#e2e2e2' stroke-width='1'/><line x1='287.5' y1='779.50' x2='287.5' y2='784.00' stroke='#9a9a9a' stroke-width='1'/><line x1='309.5' y1='665.70' x2='309.5' y2='779.50' stroke='#e2e2e2' stroke-width='1'/><line x1='309.5' y1='779.50' x2='309.5' y2='784.00' stroke='#9a9a9a' stroke-width='1'/><line x1='331.5' y1='665.70' x2='331.5' y2='779.50' stroke='#e2e2e2' stroke-width='1'/><line x1='331.5' y1='779.50' x2='331.5' y2='784.00' stroke='#9a9a9a' stroke-width='1'/><line x1='353.5' y1='665.70' x2='353.5' y2='779.50' stroke='#e2e2e2' stroke-width='1'/><line x1='353.5' y1='779.50' x2='353.5' y2='784.00' stroke='#9a9a9a' stroke-width='1'/><line x1='375.5' y1='665.70' x2='375.5' y2='779.50' stroke='#e2e2e2' stroke-width='1'/><line x1='375.5' y1='779.50' x2='375.5' y2='784.00' stroke='#9a9a9a' stroke-width='1'/><line x1='397.5' y1='665.70' x2='397.5' y2='779.50' stroke='#e2e2e2' stroke-width='1'/><line x1='397.5' y1='779.50' x2='397.5' y2='784.00' stroke='#9a9a9a' stroke-width='1'/><line x1='419.5' y1='665.70' x2='419.5' y2='779.50' stroke='#e2e2e2' stroke-width='1'/><line x1='419.5' y1='779.50' x2='419.5' y2='784.00' stroke='#9a9a9a' stroke-width='1'/><line x1='441.5' y1='665.70' x2='441.5' y2='779.50' stroke='#e2e2e2' stroke-width='1'/><line x1='441.5' y1='779.50' x2='441.5' y2='784.00' stroke='#9a9a9a' stroke-width='1'/><line x1='463.5' y1='665.70' x2='463.5' y2='779.50' stroke='#e2e2e2' stroke-width='1'/><line x1='463.5' y1='779.50' x2='463.5' y2='784.00' stroke='#9a9a9a' stroke-width='1'/><line x1='485.5' y1='665.70' x2='485.5' y2='779.50' stroke='#e2e2e2' stroke-width='1'/><line x1='485.5' y1='779.50' x2='485.5' y2='784.00' stroke='#9a9a9a' stroke-width='1'/><line x1='507.5' y1='665.70' x2='507.5' y2='779.50' stroke='#e2e2e2' stroke-width='1'/><line x1='507.5' y1='779.50' x2='507.5' y2='784.00' stroke='#9a9a9a' stroke-width='1'/><line x1='529.5' y1='665.70' x2='529.5' y2='779.50' stroke='#e2e2e2' stroke-width='1'/><line x1='529.5' y1='779.50' x2='529.5' y2='784.00' stroke='#9a9a9a' stroke-width='1'/><line x1='551.5' y1='665.70' x2='551.5' y2='779.50' stroke='#e2e2e2' stroke-width='1'/><line x1='551.5' y1='779.50' x2='551.5' y2='784.00' stroke='#9a9a9a' stroke-width='1'/><line x1='573.5' y1='665.70' x2='573.5' y2='779.50' stroke='#e2e2e2' stroke-width='1'/><line x1='573.5' y1='779.50' x2='573.5' y2='784.00' stroke='#9a9a9a' stroke-width='1'/><line x1='595.5' y1='665.70' x2='595.5' y2='779.50' stroke='#e2e2e2' stroke-width='1'/><line x1='595.5' y1='779.50' x2='595.5' y2='784.00' stroke='#9a9a9a' stroke-width='1'/><line x1='617.5' y1='665.70' x2='617.5' y2='779.50' stroke='#e2e2e2' stroke-width='1'/><line x1='617.5' y1='779.50' x2='617.5' y2='784.00' stroke='#9a9a9a' stroke-width='1'/><line x1='639.5' y1='665.70' x2='639.5' y2='779.50' stroke='#e2e2e2' stroke-width='1'/><line x1='639.5' y1='779.50' x2='639.5' y2='784.00' stroke='#9a9a9a' stroke-width='1'/><line x1='661.5' y1='665.70' x2='661.5' y2='779.50' stroke='#e2e2e2' stroke-width='1'/><line x1='661.5' y1='779.50' x2='661.5' y2='784.00' stroke='#9a9a9a' stroke-width='1'/><line x1='683.5' y1='665.70' x2='683.5' y2='779.50' stroke='#e2e2e2' stroke-width='1'/><line x1='683.5' y1='779.50' x2='683.5' y2='784.00' stroke='#9a9a9a' stroke-width='1'/><line x1='705.5' y1='665.70' x2='705.5' y2='779.50' stroke='#e2e2e2' stroke-width='1'/><line x1='705.5' y1='779.50' x2='705.5' y2='784.00' stroke='#9a9a9a' stroke-width='1'/><line x1='727.5' y1='665.70' x2='727.5' y2='779.50' stroke='#e2e2e2' stroke-width='1'/><line x1='727.5' y1='779.50' x2='727.5' y2='784.00' stroke='#9a9a9a' stroke-width='1'/><line x1='749.5' y1='665.70' x2='749.5' y2='779.50' stroke='#e2e2e2' stroke-width='1'/><line x1='749.5' y1='779.50' x2='749.5' y2='784.00' stroke='#9a9a9a' stroke-width='1'/><line x1='771.5' y1='665.70' x2='771.5' y2='779.50' stroke='#e2e2e2' stroke-width='1'/><line x1='771.5' y1='779.50' x2='771.5' y2='784.00' stroke='#9a9a9a' stroke-width='1'/><line x1='793.5' y1='665.70' x2='793.5' y2='779.50' stroke='#e2e2e2' stroke-width='1'/><line x1='793.5' y1='779.50' x2='793.5' y2='784.00' stroke='#9a9a9a' stroke-width='1'/><line x1='815.5' y1='665.70' x2='815.5' y2='779.50' stroke='#e2e2e2' stroke-width='1'/><line x1='815.5' y1='779.50' x2='815.5' y2='784.00' stroke='#9a9a9a' stroke-width='1'/><line x1='837.5' y1='665.70' x2='837.5' y2='779.50' stroke='#e2e2e2' stroke-width='1'/><line x1='837.5' y1='779.50' x2='837.5' y2='784.00' stroke='#9a9a9a' stroke-width='1'/><line x1='859.5' y1='665.70' x2='859.5' y2='779.50' stroke='#e2e2e2' stroke-width='1'/><line x1='859.5' y1='779.50' x2='859.5' y2='784.00' stroke='#9a9a9a' stroke-width='1'/><line x1='881.5' y1='665.70' x2='881.5' y2='779.50' stroke='#e2e2e2' stroke-width='1'/><line x1='881.5' y1='779.50' x2='881.5' y2='784.00' stroke='#9a9a9a' stroke-width='1'/><line x1='903.5' y1='665.70' x2='903.5' y2='779.50' stroke='#e2e2e2' stroke-width='1'/><line x1='903.5' y1='779.50' x2='903.5' y2='784.00' stroke='#9a9a9a' stroke-width='1'/><line x1='925.5' y1='665.70' x2='925.5' y2='779.50' stroke='#e2e2e2' stroke-width='1'/><line x1='925.5' y1='779.50' x2='925.5' y2='784.00' stroke='#9a9a9a' stroke-width='1'/><line x1='265.5' y1='665.70' x2='265.5' y2='784.00' stroke='#999' stroke-width='1'/><rect x='279.80' y='672.40' width='5.00' height='107.10' fill='#1e90e0'/><rect x='301.78' y='695.90' width='5.00' height='83.60' fill='#1e90e0'/><rect x='323.75' y='715.80' width='5.00' height='63.70' fill='#1e90e0'/><rect x='345.73' y='726.40' width='5.00' height='53.10' fill='#1e90e0'/><rect x='367.71' y='728.20' width='5.00' height='51.30' fill='#1e90e0'/><rect x='389.68' y='740.60' width='5.00' height='38.90' fill='#1e90e0'/><rect x='411.66' y='752.60' width='5.00' height='26.90' fill='#1e90e0'/><rect x='433.64' y='759.50' width='5.00' height='20.00' fill='#1e90e0'/><rect x='455.61' y='760.20' width='5.00' height='19.30' fill='#1e90e0'/><rect x='477.59' y='765.90' width='5.00' height='13.60' fill='#1e90e0'/><rect x='499.57' y='767.30' width='5.00' height='12.20' fill='#1e90e0'/><rect x='521.54' y='771.20' width='5.00' height='8.30' fill='#1e90e0'/><rect x='543.52' y='772.30' width='5.00' height='7.20' fill='#1e90e0'/><rect x='565.50' y='773.30' width='5.00' height='6.20' fill='#1e90e0'/><rect x='587.47' y='774.20' width='5.00' height='5.30' fill='#1e90e0'/><rect x='609.45' y='775.10' width='5.00' height='4.40' fill='#1e90e0'/><rect x='631.43' y='775.10' width='5.00' height='4.40' fill='#1e90e0'/><rect x='653.40' y='776.80' width='5.00' height='2.70' fill='#1e90e0'/><rect x='675.38' y='777.60' width='5.00' height='1.90' fill='#1e90e0'/><rect x='697.36' y='777.80' width='5.00' height='1.70' fill='#1e90e0'/><rect x='719.33' y='778.00' width='5.00' height='1.50' fill='#1e90e0'/><rect x='741.31' y='778.20' width='5.00' height='1.30' fill='#1e90e0'/><rect x='763.29' y='778.40' width='5.00' height='1.10' fill='#1e90e0'/><rect x='785.26' y='778.50' width='5.00' height='1.00' fill='#1e90e0'/><rect x='807.24' y='778.60' width='5.00' height='0.90' fill='#1e90e0'/><rect x='829.22' y='778.60' width='5.00' height='0.90' fill='#1e90e0'/><rect x='851.19' y='778.70' width='5.00' height='0.80' fill='#1e90e0'/><rect x='873.17' y='778.70' width='5.00' height='0.80' fill='#1e90e0'/><rect x='895.15' y='778.70' width='5.00' height='0.80' fill='#1e90e0'/><rect x='917.12' y='778.70' width='5.00' height='0.80' fill='#1e90e0'/><rect x='261.20' y='779' width='664.30' height='2' fill='#bdbdbd'/><text x='277.19' y='791.50' text-anchor='end' font-size='9.6' transform='rotate(-45 277.19 791.50)'>Project Test</text><text x='299.16' y='791.50' text-anchor='end' font-size='9.6' transform='rotate(-45 299.16 791.50)'>XYZ Sky Heights</text><text x='321.14' y='791.50' text-anchor='end' font-size='9.6' transform='rotate(-45 321.14 791.50)'>The Leaf</text><text x='343.12' y='791.50' text-anchor='end' font-size='9.6' transform='rotate(-45 343.12 791.50)'>Atria Grande</text><text x='365.09' y='791.50' text-anchor='end' font-size='9.6' transform='rotate(-45 365.09 791.50)'>Om sai</text><text x='387.07' y='791.50' text-anchor='end' font-size='9.6' transform='rotate(-45 387.07 791.50)'>Test Project 13</text><text x='409.05' y='791.50' text-anchor='end' font-size='9.6' transform='rotate(-45 409.05 791.50)'>Nilesh Hights I...</text><text x='431.02' y='791.50' text-anchor='end' font-size='9.6' transform='rotate(-45 431.02 791.50)'>akshay tower</text><text x='453.00' y='791.50' text-anchor='end' font-size='9.6' transform='rotate(-45 453.00 791.50)'>XYZ Park View</text><text x='474.98' y='791.50' text-anchor='end' font-size='9.6' transform='rotate(-45 474.98 791.50)'>Janvi</text><text x='496.95' y='791.50' text-anchor='end' font-size='9.6' transform='rotate(-45 496.95 791.50)'>Strategic Heigh...</text><text x='518.93' y='791.50' text-anchor='end' font-size='9.6' transform='rotate(-45 518.93 791.50)'>Product Phase-2</text><text x='540.91' y='791.50' text-anchor='end' font-size='9.6' transform='rotate(-45 540.91 791.50)'>\AI CONSTRUCTIO...</text><text x='562.88' y='791.50' text-anchor='end' font-size='9.6' transform='rotate(-45 562.88 791.50)'>TEST BUILDING</text><text x='584.86' y='791.50' text-anchor='end' font-size='9.6' transform='rotate(-45 584.86 791.50)'>SAI HEIGHTS</text><text x='606.84' y='791.50' text-anchor='end' font-size='9.6' transform='rotate(-45 606.84 791.50)'>Rate Analysis</text><text x='628.82' y='791.50' text-anchor='end' font-size='9.6' transform='rotate(-45 628.82 791.50)'>Product Phase-1</text><text x='650.79' y='791.50' text-anchor='end' font-size='9.6' transform='rotate(-45 650.79 791.50)'>Prasanna projec...</text><text x='672.77' y='791.50' text-anchor='end' font-size='9.6' transform='rotate(-45 672.77 791.50)'>Phase-1A</text><text x='694.75' y='791.50' text-anchor='end' font-size='9.6' transform='rotate(-45 694.75 791.50)'>GALAXY</text><text x='716.72' y='791.50' text-anchor='end' font-size='9.6' transform='rotate(-45 716.72 791.50)'>Test Project 1</text><text x='738.70' y='791.50' text-anchor='end' font-size='9.6' transform='rotate(-45 738.70 791.50)'>... CORPORATE PAR...</text><text x='760.67' y='791.50' text-anchor='end' font-size='9.6' transform='rotate(-45 760.67 791.50)'>D7</text><text x='782.65' y='791.50' text-anchor='end' font-size='9.6' transform='rotate(-45 782.65 791.50)'>Product Phase-3</text><text x='804.63' y='791.50' text-anchor='end' font-size='9.6' transform='rotate(-45 804.63 791.50)'>Nilesh Tower</text><text x='826.61' y='791.50' text-anchor='end' font-size='9.6' transform='rotate(-45 826.61 791.50)'>Panchshil Tower</text><text x='848.58' y='791.50' text-anchor='end' font-size='9.6' transform='rotate(-45 848.58 791.50)'>Nilesh Hight</text><text x='870.56' y='791.50' text-anchor='end' font-size='9.6' transform='rotate(-45 870.56 791.50)'>ULKA CHSL</text><text x='892.54' y='791.50' text-anchor='end' font-size='9.6' transform='rotate(-45 892.54 791.50)'>Sahara One</text><text x='914.51' y='791.50' text-anchor='end' font-size='9.6' transform='rotate(-45 914.51 791.50)'>sumankumar proj...</text><rect x='936' y='744.5' width='14' height='3' fill='#1a5a96'/><text x='957' y='749.5' font-size='10'>Days 0 to 45</text><rect x='936' y='755.5' width='14' height='3' fill='#f7a823'/><text x='957' y='760.5' font-size='10'>Days 45 to 90</text><rect x='936' y='766.5' width='14' height='3' fill='#82d2f5'/><text x='957' y='771.5' font-size='10'>Days 90 to 180</text><rect x='936' y='777.5' width='14' height='3' fill='#1e90e0'/><text x='957' y='782.5' font-size='10'>Above 180 Days</text></svg></div><svg class='abs' style='left:946px;top:634px' width='92' height='13' viewBox='0 0 92 13'><g fill='#1565cf' stroke='none'><rect x='1' y='0.3' width='9' height='1.4'/><path d='M1 2.6 L10 2.6 L6.6 6.8 L6.6 10.6 L4.4 12 L4.4 6.8 Z'/><rect x='17.6' y='0.6' width='9.6' height='11' fill='none' stroke='#1565cf' stroke-width='1.2'/><rect x='17.6' y='0.6' width='9.6' height='2'/><rect x='20' y='4' width='5' height='1' opacity='.8'/><rect x='20' y='6' width='5' height='1' opacity='.8'/><rect x='20' y='8' width='5' height='1' opacity='.8'/><circle cx='39.2' cy='6.2' r='5.3'/></g><path d='M37.3 4.9 Q37.3 3.1 39.2 3.1 Q41 3.1 41 4.6 Q41 5.6 39.9 6.1 Q39.2 6.5 39.2 7.5' stroke='#fff' stroke-width='1.3' fill='none'/><circle cx='39.2' cy='9.2' r='0.8' fill='#fff'/><path d='M51.8 5.6 A4.4 4.4 0 0 1 59.6 3.6' stroke='#1565cf' stroke-width='1.6' fill='none'/><path d='M61.2 0.9 L61.2 5.2 L56.9 5.2 Z' fill='#1565cf'/><path d='M60.4 7 A4.4 4.4 0 0 1 52.6 9' stroke='#1565cf' stroke-width='1.6' fill='none'/><path d='M51 11.7 L51 7.4 L55.3 7.4 Z' fill='#1565cf'/><g fill='#1565cf'><rect x='72.8' y='0.5' width='2.2' height='5'/><path d='M70.2 5 L77.6 5 L73.9 9 Z'/><rect x='68.6' y='10.3' width='10.6' height='1.8'/><rect x='68.6' y='7.6' width='1.6' height='4'/><rect x='77.6' y='7.6' width='1.6' height='4'/><circle cx='89.8' cy='2.2' r='1.15'/><circle cx='89.8' cy='6.2' r='1.15'/><circle cx='89.8' cy='10.2' r='1.15'/></g></svg>
<div class='card' style='left:1058px;top:627px;width:824px;height:253px;'><div class='ct'>Stock In Hand (Amounts are in lakhs)</div><svg class='abs' style='left:-1px;top:-1px' width='824' height='253' viewBox='1058 627 824 253' font-family="Liberation Sans" font-size='10' fill='#333'><line x1='1112.30' y1='665.5' x2='1799.60' y2='665.5' stroke='#e2e2e2' stroke-width='1'/><line x1='1107.80' y1='665.5' x2='1112.30' y2='665.5' stroke='#9a9a9a' stroke-width='1'/><text x='1104.3' y='669.3' text-anchor='end' font-size='10'>90</text><line x1='1112.30' y1='677.5' x2='1799.60' y2='677.5' stroke='#e2e2e2' stroke-width='1'/><line x1='1107.80' y1='677.5' x2='1112.30' y2='677.5' stroke='#9a9a9a' stroke-width='1'/><text x='1104.3' y='681.2' text-anchor='end' font-size='10'>80</text><line x1='1112.30' y1='690.5' x2='1799.60' y2='690.5' stroke='#e2e2e2' stroke-width='1'/><line x1='1107.80' y1='690.5' x2='1112.30' y2='690.5' stroke='#9a9a9a' stroke-width='1'/><text x='1104.3' y='694.0' text-anchor='end' font-size='10'>70</text><line x1='1112.30' y1='703.5' x2='1799.60' y2='703.5' stroke='#e2e2e2' stroke-width='1'/><line x1='1107.80' y1='703.5' x2='1112.30' y2='703.5' stroke='#9a9a9a' stroke-width='1'/><text x='1104.3' y='706.9' text-anchor='end' font-size='10'>60</text><line x1='1112.30' y1='716.5' x2='1799.60' y2='716.5' stroke='#e2e2e2' stroke-width='1'/><line x1='1107.80' y1='716.5' x2='1112.30' y2='716.5' stroke='#9a9a9a' stroke-width='1'/><text x='1104.3' y='719.7' text-anchor='end' font-size='10'>50</text><line x1='1112.30' y1='729.5' x2='1799.60' y2='729.5' stroke='#e2e2e2' stroke-width='1'/><line x1='1107.80' y1='729.5' x2='1112.30' y2='729.5' stroke='#9a9a9a' stroke-width='1'/><text x='1104.3' y='732.6' text-anchor='end' font-size='10'>40</text><line x1='1112.30' y1='742.5' x2='1799.60' y2='742.5' stroke='#e2e2e2' stroke-width='1'/><line x1='1107.80' y1='742.5' x2='1112.30' y2='742.5' stroke='#9a9a9a' stroke-width='1'/><text x='1104.3' y='745.5' text-anchor='end' font-size='10'>30</text><line x1='1112.30' y1='754.5' x2='1799.60' y2='754.5' stroke='#e2e2e2' stroke-width='1'/><line x1='1107.80' y1='754.5' x2='1112.30' y2='754.5' stroke='#9a9a9a' stroke-width='1'/><text x='1104.3' y='758.3' text-anchor='end' font-size='10'>20</text><line x1='1112.30' y1='767.5' x2='1799.60' y2='767.5' stroke='#e2e2e2' stroke-width='1'/><line x1='1107.80' y1='767.5' x2='1112.30' y2='767.5' stroke='#9a9a9a' stroke-width='1'/><text x='1104.3' y='771.1' text-anchor='end' font-size='10'>10</text><line x1='1112.30' y1='780.5' x2='1799.60' y2='780.5' stroke='#e2e2e2' stroke-width='1'/><line x1='1107.80' y1='780.5' x2='1112.30' y2='780.5' stroke='#9a9a9a' stroke-width='1'/><text x='1104.3' y='784.0' text-anchor='end' font-size='10'>0.00</text><line x1='1112.30' y1='792.5' x2='1799.60' y2='792.5' stroke='#e2e2e2' stroke-width='1'/><line x1='1107.80' y1='792.5' x2='1112.30' y2='792.5' stroke='#9a9a9a' stroke-width='1'/><text x='1104.3' y='796.4' text-anchor='end' font-size='10'>-10</text><line x1='1112.5' y1='665.80' x2='1112.5' y2='792.90' stroke='#e2e2e2' stroke-width='1'/><line x1='1112.5' y1='780.50' x2='1112.5' y2='785.00' stroke='#9a9a9a' stroke-width='1'/><line x1='1130.5' y1='665.80' x2='1130.5' y2='792.90' stroke='#e2e2e2' stroke-width='1'/><line x1='1130.5' y1='780.50' x2='1130.5' y2='785.00' stroke='#9a9a9a' stroke-width='1'/><line x1='1148.5' y1='665.80' x2='1148.5' y2='792.90' stroke='#e2e2e2' stroke-width='1'/><line x1='1148.5' y1='780.50' x2='1148.5' y2='785.00' stroke='#9a9a9a' stroke-width='1'/><line x1='1166.5' y1='665.80' x2='1166.5' y2='792.90' stroke='#e2e2e2' stroke-width='1'/><line x1='1166.5' y1='780.50' x2='1166.5' y2='785.00' stroke='#9a9a9a' stroke-width='1'/><line x1='1184.5' y1='665.80' x2='1184.5' y2='792.90' stroke='#e2e2e2' stroke-width='1'/><line x1='1184.5' y1='780.50' x2='1184.5' y2='785.00' stroke='#9a9a9a' stroke-width='1'/><line x1='1202.5' y1='665.80' x2='1202.5' y2='792.90' stroke='#e2e2e2' stroke-width='1'/><line x1='1202.5' y1='780.50' x2='1202.5' y2='785.00' stroke='#9a9a9a' stroke-width='1'/><line x1='1220.5' y1='665.80' x2='1220.5' y2='792.90' stroke='#e2e2e2' stroke-width='1'/><line x1='1220.5' y1='780.50' x2='1220.5' y2='785.00' stroke='#9a9a9a' stroke-width='1'/><line x1='1238.5' y1='665.80' x2='1238.5' y2='792.90' stroke='#e2e2e2' stroke-width='1'/><line x1='1238.5' y1='780.50' x2='1238.5' y2='785.00' stroke='#9a9a9a' stroke-width='1'/><line x1='1256.5' y1='665.80' x2='1256.5' y2='792.90' stroke='#e2e2e2' stroke-width='1'/><line x1='1256.5' y1='780.50' x2='1256.5' y2='785.00' stroke='#9a9a9a' stroke-width='1'/><line x1='1275.5' y1='665.80' x2='1275.5' y2='792.90' stroke='#e2e2e2' stroke-width='1'/><line x1='1275.5' y1='780.50' x2='1275.5' y2='785.00' stroke='#9a9a9a' stroke-width='1'/><line x1='1293.5' y1='665.80' x2='1293.5' y2='792.90' stroke='#e2e2e2' stroke-width='1'/><line x1='1293.5' y1='780.50' x2='1293.5' y2='785.00' stroke='#9a9a9a' stroke-width='1'/><line x1='1311.5' y1='665.80' x2='1311.5' y2='792.90' stroke='#e2e2e2' stroke-width='1'/><line x1='1311.5' y1='780.50' x2='1311.5' y2='785.00' stroke='#9a9a9a' stroke-width='1'/><line x1='1329.5' y1='665.80' x2='1329.5' y2='792.90' stroke='#e2e2e2' stroke-width='1'/><line x1='1329.5' y1='780.50' x2='1329.5' y2='785.00' stroke='#9a9a9a' stroke-width='1'/><line x1='1347.5' y1='665.80' x2='1347.5' y2='792.90' stroke='#e2e2e2' stroke-width='1'/><line x1='1347.5' y1='780.50' x2='1347.5' y2='785.00' stroke='#9a9a9a' stroke-width='1'/><line x1='1365.5' y1='665.80' x2='1365.5' y2='792.90' stroke='#e2e2e2' stroke-width='1'/><line x1='1365.5' y1='780.50' x2='1365.5' y2='785.00' stroke='#9a9a9a' stroke-width='1'/><line x1='1383.5' y1='665.80' x2='1383.5' y2='792.90' stroke='#e2e2e2' stroke-width='1'/><line x1='1383.5' y1='780.50' x2='1383.5' y2='785.00' stroke='#9a9a9a' stroke-width='1'/><line x1='1401.5' y1='665.80' x2='1401.5' y2='792.90' stroke='#e2e2e2' stroke-width='1'/><line x1='1401.5' y1='780.50' x2='1401.5' y2='785.00' stroke='#9a9a9a' stroke-width='1'/><line x1='1419.5' y1='665.80' x2='1419.5' y2='792.90' stroke='#e2e2e2' stroke-width='1'/><line x1='1419.5' y1='780.50' x2='1419.5' y2='785.00' stroke='#9a9a9a' stroke-width='1'/><line x1='1437.5' y1='665.80' x2='1437.5' y2='792.90' stroke='#e2e2e2' stroke-width='1'/><line x1='1437.5' y1='780.50' x2='1437.5' y2='785.00' stroke='#9a9a9a' stroke-width='1'/><line x1='1455.5' y1='665.80' x2='1455.5' y2='792.90' stroke='#e2e2e2' stroke-width='1'/><line x1='1455.5' y1='780.50' x2='1455.5' y2='785.00' stroke='#9a9a9a' stroke-width='1'/><line x1='1474.5' y1='665.80' x2='1474.5' y2='792.90' stroke='#e2e2e2' stroke-width='1'/><line x1='1474.5' y1='780.50' x2='1474.5' y2='785.00' stroke='#9a9a9a' stroke-width='1'/><line x1='1492.5' y1='665.80' x2='1492.5' y2='792.90' stroke='#e2e2e2' stroke-width='1'/><line x1='1492.5' y1='780.50' x2='1492.5' y2='785.00' stroke='#9a9a9a' stroke-width='1'/><line x1='1510.5' y1='665.80' x2='1510.5' y2='792.90' stroke='#e2e2e2' stroke-width='1'/><line x1='1510.5' y1='780.50' x2='1510.5' y2='785.00' stroke='#9a9a9a' stroke-width='1'/><line x1='1528.5' y1='665.80' x2='1528.5' y2='792.90' stroke='#e2e2e2' stroke-width='1'/><line x1='1528.5' y1='780.50' x2='1528.5' y2='785.00' stroke='#9a9a9a' stroke-width='1'/><line x1='1546.5' y1='665.80' x2='1546.5' y2='792.90' stroke='#e2e2e2' stroke-width='1'/><line x1='1546.5' y1='780.50' x2='1546.5' y2='785.00' stroke='#9a9a9a' stroke-width='1'/><line x1='1564.5' y1='665.80' x2='1564.5' y2='792.90' stroke='#e2e2e2' stroke-width='1'/><line x1='1564.5' y1='780.50' x2='1564.5' y2='785.00' stroke='#9a9a9a' stroke-width='1'/><line x1='1582.5' y1='665.80' x2='1582.5' y2='792.90' stroke='#e2e2e2' stroke-width='1'/><line x1='1582.5' y1='780.50' x2='1582.5' y2='785.00' stroke='#9a9a9a' stroke-width='1'/><line x1='1600.5' y1='665.80' x2='1600.5' y2='792.90' stroke='#e2e2e2' stroke-width='1'/><line x1='1600.5' y1='780.50' x2='1600.5' y2='785.00' stroke='#9a9a9a' stroke-width='1'/><line x1='1618.5' y1='665.80' x2='1618.5' y2='792.90' stroke='#e2e2e2' stroke-width='1'/><line x1='1618.5' y1='780.50' x2='1618.5' y2='785.00' stroke='#9a9a9a' stroke-width='1'/><line x1='1636.5' y1='665.80' x2='1636.5' y2='792.90' stroke='#e2e2e2' stroke-width='1'/><line x1='1636.5' y1='780.50' x2='1636.5' y2='785.00' stroke='#9a9a9a' stroke-width='1'/><line x1='1654.5' y1='665.80' x2='1654.5' y2='792.90' stroke='#e2e2e2' stroke-width='1'/><line x1='1654.5' y1='780.50' x2='1654.5' y2='785.00' stroke='#9a9a9a' stroke-width='1'/><line x1='1672.5' y1='665.80' x2='1672.5' y2='792.90' stroke='#e2e2e2' stroke-width='1'/><line x1='1672.5' y1='780.50' x2='1672.5' y2='785.00' stroke='#9a9a9a' stroke-width='1'/><line x1='1691.5' y1='665.80' x2='1691.5' y2='792.90' stroke='#e2e2e2' stroke-width='1'/><line x1='1691.5' y1='780.50' x2='1691.5' y2='785.00' stroke='#9a9a9a' stroke-width='1'/><line x1='1709.5' y1='665.80' x2='1709.5' y2='792.90' stroke='#e2e2e2' stroke-width='1'/><line x1='1709.5' y1='780.50' x2='1709.5' y2='785.00' stroke='#9a9a9a' stroke-width='1'/><line x1='1727.5' y1='665.80' x2='1727.5' y2='792.90' stroke='#e2e2e2' stroke-width='1'/><line x1='1727.5' y1='780.50' x2='1727.5' y2='785.00' stroke='#9a9a9a' stroke-width='1'/><line x1='1745.5' y1='665.80' x2='1745.5' y2='792.90' stroke='#e2e2e2' stroke-width='1'/><line x1='1745.5' y1='780.50' x2='1745.5' y2='785.00' stroke='#9a9a9a' stroke-width='1'/><line x1='1763.5' y1='665.80' x2='1763.5' y2='792.90' stroke='#e2e2e2' stroke-width='1'/><line x1='1763.5' y1='780.50' x2='1763.5' y2='785.00' stroke='#9a9a9a' stroke-width='1'/><line x1='1781.5' y1='665.80' x2='1781.5' y2='792.90' stroke='#e2e2e2' stroke-width='1'/><line x1='1781.5' y1='780.50' x2='1781.5' y2='785.00' stroke='#9a9a9a' stroke-width='1'/><line x1='1799.5' y1='665.80' x2='1799.5' y2='792.90' stroke='#e2e2e2' stroke-width='1'/><line x1='1799.5' y1='780.50' x2='1799.5' y2='785.00' stroke='#9a9a9a' stroke-width='1'/><line x1='1112.5' y1='665.80' x2='1112.5' y2='797.00' stroke='#999' stroke-width='1'/><rect x='1117.40' y='681.30' width='7.40' height='99.20' fill='#1269a3'/><rect x='1135.49' y='738.40' width='7.40' height='42.10' fill='#1269a3'/><rect x='1153.57' y='754.20' width='7.40' height='26.30' fill='#1269a3'/><rect x='1171.66' y='759.30' width='7.40' height='21.20' fill='#1269a3'/><rect x='1189.75' y='760.30' width='7.40' height='20.20' fill='#1269a3'/><rect x='1207.83' y='765.40' width='7.40' height='15.10' fill='#1269a3'/><rect x='1225.92' y='769.40' width='7.40' height='11.10' fill='#1269a3'/><rect x='1244.01' y='772.30' width='7.40' height='8.20' fill='#1269a3'/><rect x='1262.09' y='772.30' width='7.40' height='8.20' fill='#1269a3'/><rect x='1280.18' y='773.40' width='7.40' height='7.10' fill='#1269a3'/><rect x='1298.27' y='774.30' width='7.40' height='6.20' fill='#1269a3'/><rect x='1316.36' y='775.40' width='7.40' height='5.10' fill='#1269a3'/><rect x='1334.44' y='775.40' width='7.40' height='5.10' fill='#1269a3'/><rect x='1352.53' y='776.30' width='7.40' height='4.20' fill='#1269a3'/><rect x='1370.62' y='777.20' width='7.40' height='3.30' fill='#1269a3'/><rect x='1388.70' y='778.30' width='7.40' height='2.20' fill='#1269a3'/><rect x='1406.79' y='778.30' width='7.40' height='2.20' fill='#1269a3'/><rect x='1424.88' y='778.30' width='7.40' height='2.20' fill='#1269a3'/><rect x='1442.96' y='778.30' width='7.40' height='2.20' fill='#1269a3'/><rect x='1461.05' y='779.00' width='7.40' height='1.50' fill='#1269a3'/><rect x='1479.14' y='779.00' width='7.40' height='1.50' fill='#1269a3'/><rect x='1497.22' y='779.00' width='7.40' height='1.50' fill='#1269a3'/><rect x='1515.31' y='779.00' width='7.40' height='1.50' fill='#1269a3'/><rect x='1533.40' y='779.00' width='7.40' height='1.50' fill='#1269a3'/><rect x='1551.48' y='779.50' width='7.40' height='1.00' fill='#1269a3'/><rect x='1569.57' y='779.50' width='7.40' height='1.00' fill='#1269a3'/><rect x='1587.66' y='779.50' width='7.40' height='1.00' fill='#1269a3'/><rect x='1605.74' y='779.50' width='7.40' height='1.00' fill='#1269a3'/><rect x='1623.83' y='779.50' width='7.40' height='1.00' fill='#1269a3'/><rect x='1641.92' y='779.50' width='7.40' height='1.00' fill='#1269a3'/><rect x='1660.01' y='779.50' width='7.40' height='1.00' fill='#1269a3'/><rect x='1678.09' y='779.50' width='7.40' height='1.00' fill='#1269a3'/><rect x='1696.18' y='779.50' width='7.40' height='1.00' fill='#1269a3'/><rect x='1750.44' y='779.50' width='7.40' height='1.00' fill='#1269a3'/><rect x='1768.53' y='779.50' width='7.40' height='1.00' fill='#1269a3'/><rect x='1786.61' y='779.50' width='7.40' height='1.00' fill='#1269a3'/><rect x='1107.80' y='779.5' width='692.30' height='2' fill='#bdbdbd'/><text x='1120.84' y='793.00' text-anchor='end' font-size='9.6' transform='rotate(-45 1120.84 793.00)'>XYZ Sky Heights</text><text x='1138.93' y='793.00' text-anchor='end' font-size='9.6' transform='rotate(-45 1138.93 793.00)'>Project Test</text><text x='1157.02' y='793.00' text-anchor='end' font-size='9.6' transform='rotate(-45 1157.02 793.00)'>The Leaf</text><text x='1175.10' y='793.00' text-anchor='end' font-size='9.6' transform='rotate(-45 1175.10 793.00)'>Atria Grande</text><text x='1193.19' y='793.00' text-anchor='end' font-size='9.6' transform='rotate(-45 1193.19 793.00)'>Om sai</text><text x='1211.28' y='793.00' text-anchor='end' font-size='9.6' transform='rotate(-45 1211.28 793.00)'>Test Project 13</text><text x='1229.36' y='793.00' text-anchor='end' font-size='9.6' transform='rotate(-45 1229.36 793.00)'>Nilesh Hights I...</text><text x='1247.45' y='793.00' text-anchor='end' font-size='9.6' transform='rotate(-45 1247.45 793.00)'>XYZ Park View</text><text x='1265.54' y='793.00' text-anchor='end' font-size='9.6' transform='rotate(-45 1265.54 793.00)'>akshay tower</text><text x='1283.62' y='793.00' text-anchor='end' font-size='9.6' transform='rotate(-45 1283.62 793.00)'>GLEN CLASSIC</text><text x='1301.71' y='793.00' text-anchor='end' font-size='9.6' transform='rotate(-45 1301.71 793.00)'>Godrej Vihaa</text><text x='1319.80' y='793.00' text-anchor='end' font-size='9.6' transform='rotate(-45 1319.80 793.00)'>Janvi</text><text x='1337.89' y='793.00' text-anchor='end' font-size='9.6' transform='rotate(-45 1337.89 793.00)'>Strategic Heigh...</text><text x='1355.97' y='793.00' text-anchor='end' font-size='9.6' transform='rotate(-45 1355.97 793.00)'>Product Phase-2</text><text x='1374.06' y='793.00' text-anchor='end' font-size='9.6' transform='rotate(-45 1374.06 793.00)'>\AI CONSTRUCTIO...</text><text x='1392.15' y='793.00' text-anchor='end' font-size='9.6' transform='rotate(-45 1392.15 793.00)'>TEST BUILDING</text><text x='1410.23' y='793.00' text-anchor='end' font-size='9.6' transform='rotate(-45 1410.23 793.00)'>SAI HEIGHTS</text><text x='1428.32' y='793.00' text-anchor='end' font-size='9.6' transform='rotate(-45 1428.32 793.00)'>Product Phase-1</text><text x='1446.41' y='793.00' text-anchor='end' font-size='9.6' transform='rotate(-45 1446.41 793.00)'>Rate Analysis</text><text x='1464.49' y='793.00' text-anchor='end' font-size='9.6' transform='rotate(-45 1464.49 793.00)'>Prasanna projec...</text><text x='1482.58' y='793.00' text-anchor='end' font-size='9.6' transform='rotate(-45 1482.58 793.00)'>GALAXY</text><text x='1500.67' y='793.00' text-anchor='end' font-size='9.6' transform='rotate(-45 1500.67 793.00)'>Test Project 1</text><text x='1518.75' y='793.00' text-anchor='end' font-size='9.6' transform='rotate(-45 1518.75 793.00)'>Phase-1A</text><text x='1536.84' y='793.00' text-anchor='end' font-size='9.6' transform='rotate(-45 1536.84 793.00)'>... CORPORATE PAR...</text><text x='1554.93' y='793.00' text-anchor='end' font-size='9.6' transform='rotate(-45 1554.93 793.00)'>D7</text><text x='1573.01' y='793.00' text-anchor='end' font-size='9.6' transform='rotate(-45 1573.01 793.00)'>Product Phase-3</text><text x='1591.10' y='793.00' text-anchor='end' font-size='9.6' transform='rotate(-45 1591.10 793.00)'>Nilesh Tower</text><text x='1609.19' y='793.00' text-anchor='end' font-size='9.6' transform='rotate(-45 1609.19 793.00)'>Panchshil Tower</text><text x='1627.27' y='793.00' text-anchor='end' font-size='9.6' transform='rotate(-45 1627.27 793.00)'>Nilesh Hight</text><text x='1645.36' y='793.00' text-anchor='end' font-size='9.6' transform='rotate(-45 1645.36 793.00)'>ULKA CHSL</text><text x='1663.45' y='793.00' text-anchor='end' font-size='9.6' transform='rotate(-45 1663.45 793.00)'>Sahara One</text><text x='1681.54' y='793.00' text-anchor='end' font-size='9.6' transform='rotate(-45 1681.54 793.00)'>sumankumar proj...</text><text x='1699.62' y='793.00' text-anchor='end' font-size='9.6' transform='rotate(-45 1699.62 793.00)'>sumankumar proj...</text><text x='1717.71' y='793.00' text-anchor='end' font-size='9.6' transform='rotate(-45 1717.71 793.00)'>Nilesh Hights 2</text><text x='1735.80' y='793.00' text-anchor='end' font-size='9.6' transform='rotate(-45 1735.80 793.00)'>R7</text><text x='1753.88' y='793.00' text-anchor='end' font-size='9.6' transform='rotate(-45 1753.88 793.00)'>Phase-1B</text><text x='1771.97' y='793.00' text-anchor='end' font-size='9.6' transform='rotate(-45 1771.97 793.00)'>Gavali IT Park</text><text x='1790.06' y='793.00' text-anchor='end' font-size='9.6' transform='rotate(-45 1790.06 793.00)'>Blue Hills</text><rect x='1810' y='761.0' width='14' height='3' fill='#1269a3'/><text x='1831' y='766.0' font-size='10'>Amount</text></svg></div><svg class='abs' style='left:1782px;top:634px' width='92' height='13' viewBox='0 0 92 13'><g fill='#1565cf' stroke='none'><rect x='1' y='0.3' width='9' height='1.4'/><path d='M1 2.6 L10 2.6 L6.6 6.8 L6.6 10.6 L4.4 12 L4.4 6.8 Z'/><rect x='17.6' y='0.6' width='9.6' height='11' fill='none' stroke='#1565cf' stroke-width='1.2'/><rect x='17.6' y='0.6' width='9.6' height='2'/><rect x='20' y='4' width='5' height='1' opacity='.8'/><rect x='20' y='6' width='5' height='1' opacity='.8'/><rect x='20' y='8' width='5' height='1' opacity='.8'/><circle cx='39.2' cy='6.2' r='5.3'/></g><path d='M37.3 4.9 Q37.3 3.1 39.2 3.1 Q41 3.1 41 4.6 Q41 5.6 39.9 6.1 Q39.2 6.5 39.2 7.5' stroke='#fff' stroke-width='1.3' fill='none'/><circle cx='39.2' cy='9.2' r='0.8' fill='#fff'/><path d='M51.8 5.6 A4.4 4.4 0 0 1 59.6 3.6' stroke='#1565cf' stroke-width='1.6' fill='none'/><path d='M61.2 0.9 L61.2 5.2 L56.9 5.2 Z' fill='#1565cf'/><path d='M60.4 7 A4.4 4.4 0 0 1 52.6 9' stroke='#1565cf' stroke-width='1.6' fill='none'/><path d='M51 11.7 L51 7.4 L55.3 7.4 Z' fill='#1565cf'/><g fill='#1565cf'><rect x='72.8' y='0.5' width='2.2' height='5'/><path d='M70.2 5 L77.6 5 L73.9 9 Z'/><rect x='68.6' y='10.3' width='10.6' height='1.8'/><rect x='68.6' y='7.6' width='1.6' height='4'/><rect x='77.6' y='7.6' width='1.6' height='4'/><circle cx='89.8' cy='2.2' r='1.15'/><circle cx='89.8' cy='6.2' r='1.15'/><circle cx='89.8' cy='10.2' r='1.15'/></g></svg>
<div class='abs' style='left:216px;top:857px;width:1701px;height:9px;background:#fff'></div>
<div class='card' style='left:222px;top:867px;width:825px;height:249px;'><div class='ct'>Work Orders</div><svg class='abs' style='left:-1px;top:-1px' width='825' height='249' viewBox='222 867 825 249' font-family="Liberation Sans" font-size='10' fill='#333'><path d='M356.33 1039.40 A86.8 86.8 0 0 1 396.20 916.70' stroke='#fcbc1e' stroke-width='7.2' fill='none'/><path d='M396.20 916.70 A86.8 86.8 0 0 1 514.05 969.18' stroke='#fa7418' stroke-width='7.2' fill='none'/><path d='M514.05 969.18 A86.8 86.8 0 0 1 506.67 1039.40' stroke='#c8101c' stroke-width='7.2' fill='none'/><line x1='370.62' y1='1031.15' x2='361.78' y2='1036.25' stroke='#a9a9a9' stroke-width='4.9'/><line x1='367.89' y1='1025.93' x2='358.66' y2='1030.28' stroke='#a9a9a9' stroke-width='4.9'/><line x1='365.61' y1='1020.50' x2='356.05' y2='1024.06' stroke='#a9a9a9' stroke-width='4.9'/><line x1='363.79' y1='1014.91' x2='353.97' y2='1017.65' stroke='#a9a9a9' stroke-width='4.9'/><line x1='362.45' y1='1009.17' x2='352.43' y2='1011.08' stroke='#a9a9a9' stroke-width='4.9'/><line x1='361.59' y1='1003.35' x2='351.44' y2='1004.41' stroke='#a9a9a9' stroke-width='4.9'/><line x1='361.22' y1='997.47' x2='351.02' y2='997.69' stroke='#a9a9a9' stroke-width='4.9'/><line x1='361.34' y1='991.59' x2='351.16' y2='990.95' stroke='#a9a9a9' stroke-width='4.9'/><line x1='361.95' y1='985.73' x2='351.86' y2='984.24' stroke='#a9a9a9' stroke-width='4.9'/><line x1='363.06' y1='979.95' x2='353.13' y2='977.62' stroke='#a9a9a9' stroke-width='4.9'/><line x1='364.64' y1='974.28' x2='354.94' y2='971.12' stroke='#a9a9a9' stroke-width='4.9'/><line x1='366.69' y1='968.76' x2='357.29' y2='964.80' stroke='#a9a9a9' stroke-width='4.9'/><line x1='369.20' y1='963.43' x2='360.16' y2='958.70' stroke='#a9a9a9' stroke-width='4.9'/><line x1='372.14' y1='958.33' x2='363.53' y2='952.87' stroke='#a9a9a9' stroke-width='4.9'/><line x1='375.50' y1='953.50' x2='367.38' y2='947.33' stroke='#a9a9a9' stroke-width='4.9'/><line x1='379.26' y1='948.96' x2='371.68' y2='942.13' stroke='#a9a9a9' stroke-width='4.9'/><line x1='383.38' y1='944.75' x2='376.39' y2='937.32' stroke='#a9a9a9' stroke-width='4.9'/><line x1='387.83' y1='940.91' x2='381.50' y2='932.91' stroke='#a9a9a9' stroke-width='4.9'/><line x1='392.60' y1='937.45' x2='386.95' y2='928.95' stroke='#a9a9a9' stroke-width='4.9'/><line x1='397.63' y1='934.40' x2='392.72' y2='925.46' stroke='#a9a9a9' stroke-width='4.9'/><line x1='402.91' y1='931.78' x2='398.76' y2='922.46' stroke='#a9a9a9' stroke-width='4.9'/><line x1='408.38' y1='929.61' x2='405.03' y2='919.98' stroke='#a9a9a9' stroke-width='4.9'/><line x1='414.02' y1='927.91' x2='411.48' y2='918.03' stroke='#a9a9a9' stroke-width='4.9'/><line x1='419.78' y1='926.68' x2='418.08' y2='916.63' stroke='#a9a9a9' stroke-width='4.9'/><line x1='425.62' y1='925.95' x2='424.76' y2='915.78' stroke='#a9a9a9' stroke-width='4.9'/><line x1='431.50' y1='925.70' x2='431.50' y2='915.50' stroke='#a9a9a9' stroke-width='4.9'/><line x1='437.38' y1='925.95' x2='438.24' y2='915.78' stroke='#a9a9a9' stroke-width='4.9'/><line x1='443.22' y1='926.68' x2='444.92' y2='916.63' stroke='#a9a9a9' stroke-width='4.9'/><line x1='448.98' y1='927.91' x2='451.52' y2='918.03' stroke='#a9a9a9' stroke-width='4.9'/><line x1='454.62' y1='929.61' x2='457.97' y2='919.98' stroke='#a9a9a9' stroke-width='4.9'/><line x1='460.09' y1='931.78' x2='464.24' y2='922.46' stroke='#a9a9a9' stroke-width='4.9'/><line x1='465.37' y1='934.40' x2='470.28' y2='925.46' stroke='#a9a9a9' stroke-width='4.9'/><line x1='470.40' y1='937.45' x2='476.05' y2='928.95' stroke='#a9a9a9' stroke-width='4.9'/><line x1='475.17' y1='940.91' x2='481.50' y2='932.91' stroke='#a9a9a9' stroke-width='4.9'/><line x1='479.62' y1='944.75' x2='486.61' y2='937.32' stroke='#a9a9a9' stroke-width='4.9'/><line x1='483.74' y1='948.96' x2='491.32' y2='942.13' stroke='#a9a9a9' stroke-width='4.9'/><line x1='487.50' y1='953.50' x2='495.62' y2='947.33' stroke='#a9a9a9' stroke-width='4.9'/><line x1='490.86' y1='958.33' x2='499.47' y2='952.87' stroke='#a9a9a9' stroke-width='4.9'/><line x1='493.80' y1='963.43' x2='502.84' y2='958.70' stroke='#a9a9a9' stroke-width='4.9'/><line x1='496.31' y1='968.76' x2='505.71' y2='964.80' stroke='#a9a9a9' stroke-width='4.9'/><line x1='498.36' y1='974.28' x2='508.06' y2='971.12' stroke='#a9a9a9' stroke-width='4.9'/><line x1='499.94' y1='979.95' x2='509.87' y2='977.62' stroke='#a9a9a9' stroke-width='4.9'/><line x1='501.05' y1='985.73' x2='511.14' y2='984.24' stroke='#a9a9a9' stroke-width='4.9'/><line x1='501.66' y1='991.59' x2='511.84' y2='990.95' stroke='#a9a9a9' stroke-width='4.9'/><line x1='501.78' y1='997.47' x2='511.98' y2='997.69' stroke='#a9a9a9' stroke-width='4.9'/><line x1='501.41' y1='1003.35' x2='511.56' y2='1004.41' stroke='#a9a9a9' stroke-width='4.9'/><line x1='500.55' y1='1009.17' x2='510.57' y2='1011.08' stroke='#a9a9a9' stroke-width='4.9'/><line x1='499.21' y1='1014.91' x2='509.03' y2='1017.65' stroke='#a9a9a9' stroke-width='4.9'/><line x1='497.39' y1='1020.50' x2='506.95' y2='1024.06' stroke='#a9a9a9' stroke-width='4.9'/><line x1='495.11' y1='1025.93' x2='504.34' y2='1030.28' stroke='#a9a9a9' stroke-width='4.9'/><line x1='492.38' y1='1031.15' x2='501.22' y2='1036.25' stroke='#a9a9a9' stroke-width='4.9'/><line x1='375.64' y1='1028.25' x2='370.88' y2='1031.00' stroke='#888' stroke-width='0.8'/><line x1='370.16' y1='976.07' x2='364.93' y2='974.37' stroke='#888' stroke-width='0.8'/><line x1='405.27' y1='937.08' x2='403.03' y2='932.05' stroke='#888' stroke-width='0.8'/><line x1='457.73' y1='937.08' x2='459.97' y2='932.05' stroke='#888' stroke-width='0.8'/><line x1='492.84' y1='976.07' x2='498.07' y2='974.37' stroke='#888' stroke-width='0.8'/><line x1='487.36' y1='1028.25' x2='492.12' y2='1031.00' stroke='#888' stroke-width='0.8'/><text x='381.00' y='1027.30' text-anchor='middle' font-size='12' fill='#333'>0</text><text x='381.09' y='983.92' text-anchor='middle' font-size='12' fill='#333'>200</text><text x='409.94' y='951.88' text-anchor='middle' font-size='12' fill='#333'>400</text><text x='453.06' y='951.88' text-anchor='middle' font-size='12' fill='#333'>600</text><text x='481.91' y='983.92' text-anchor='middle' font-size='12' fill='#333'>800</text><text x='473.50' y='1027.30' text-anchor='middle' font-size='12' fill='#333'>1000</text><path d='M430.95 995.05 L369.86 1031.24 L432.05 996.95 Z' fill='#ec7516'/><circle cx='431.5' cy='996' r='4.4' fill='#ee8226'/><text x='431.5' y='1075' text-anchor='middle' font-size='19' fill='#333'>1</text><text x='431.5' y='1089' text-anchor='middle' font-size='14.3' fill='#a5a5a5'>Approved WO</text><path d='M762.23 1039.40 A86.8 86.8 0 0 1 802.10 916.70' stroke='#fcbc1e' stroke-width='7.2' fill='none'/><path d='M802.10 916.70 A86.8 86.8 0 0 1 919.95 969.18' stroke='#fa7418' stroke-width='7.2' fill='none'/><path d='M919.95 969.18 A86.8 86.8 0 0 1 912.57 1039.40' stroke='#c8101c' stroke-width='7.2' fill='none'/><line x1='776.52' y1='1031.15' x2='767.68' y2='1036.25' stroke='#a9a9a9' stroke-width='4.9'/><line x1='773.79' y1='1025.93' x2='764.56' y2='1030.28' stroke='#a9a9a9' stroke-width='4.9'/><line x1='771.51' y1='1020.50' x2='761.95' y2='1024.06' stroke='#a9a9a9' stroke-width='4.9'/><line x1='769.69' y1='1014.91' x2='759.87' y2='1017.65' stroke='#a9a9a9' stroke-width='4.9'/><line x1='768.35' y1='1009.17' x2='758.33' y2='1011.08' stroke='#a9a9a9' stroke-width='4.9'/><line x1='767.49' y1='1003.35' x2='757.34' y2='1004.41' stroke='#a9a9a9' stroke-width='4.9'/><line x1='767.12' y1='997.47' x2='756.92' y2='997.69' stroke='#a9a9a9' stroke-width='4.9'/><line x1='767.24' y1='991.59' x2='757.06' y2='990.95' stroke='#a9a9a9' stroke-width='4.9'/><line x1='767.85' y1='985.73' x2='757.76' y2='984.24' stroke='#a9a9a9' stroke-width='4.9'/><line x1='768.96' y1='979.95' x2='759.03' y2='977.62' stroke='#a9a9a9' stroke-width='4.9'/><line x1='770.54' y1='974.28' x2='760.84' y2='971.12' stroke='#a9a9a9' stroke-width='4.9'/><line x1='772.59' y1='968.76' x2='763.19' y2='964.80' stroke='#a9a9a9' stroke-width='4.9'/><line x1='775.10' y1='963.43' x2='766.06' y2='958.70' stroke='#a9a9a9' stroke-width='4.9'/><line x1='778.04' y1='958.33' x2='769.43' y2='952.87' stroke='#a9a9a9' stroke-width='4.9'/><line x1='781.40' y1='953.50' x2='773.28' y2='947.33' stroke='#a9a9a9' stroke-width='4.9'/><line x1='785.16' y1='948.96' x2='777.58' y2='942.13' stroke='#a9a9a9' stroke-width='4.9'/><line x1='789.28' y1='944.75' x2='782.29' y2='937.32' stroke='#a9a9a9' stroke-width='4.9'/><line x1='793.73' y1='940.91' x2='787.40' y2='932.91' stroke='#a9a9a9' stroke-width='4.9'/><line x1='798.50' y1='937.45' x2='792.85' y2='928.95' stroke='#a9a9a9' stroke-width='4.9'/><line x1='803.53' y1='934.40' x2='798.62' y2='925.46' stroke='#a9a9a9' stroke-width='4.9'/><line x1='808.81' y1='931.78' x2='804.66' y2='922.46' stroke='#a9a9a9' stroke-width='4.9'/><line x1='814.28' y1='929.61' x2='810.93' y2='919.98' stroke='#a9a9a9' stroke-width='4.9'/><line x1='819.92' y1='927.91' x2='817.38' y2='918.03' stroke='#a9a9a9' stroke-width='4.9'/><line x1='825.68' y1='926.68' x2='823.98' y2='916.63' stroke='#a9a9a9' stroke-width='4.9'/><line x1='831.52' y1='925.95' x2='830.66' y2='915.78' stroke='#a9a9a9' stroke-width='4.9'/><line x1='837.40' y1='925.70' x2='837.40' y2='915.50' stroke='#a9a9a9' stroke-width='4.9'/><line x1='843.28' y1='925.95' x2='844.14' y2='915.78' stroke='#a9a9a9' stroke-width='4.9'/><line x1='849.12' y1='926.68' x2='850.82' y2='916.63' stroke='#a9a9a9' stroke-width='4.9'/><line x1='854.88' y1='927.91' x2='857.42' y2='918.03' stroke='#a9a9a9' stroke-width='4.9'/><line x1='860.52' y1='929.61' x2='863.87' y2='919.98' stroke='#a9a9a9' stroke-width='4.9'/><line x1='865.99' y1='931.78' x2='870.14' y2='922.46' stroke='#a9a9a9' stroke-width='4.9'/><line x1='871.27' y1='934.40' x2='876.18' y2='925.46' stroke='#a9a9a9' stroke-width='4.9'/><line x1='876.30' y1='937.45' x2='881.95' y2='928.95' stroke='#a9a9a9' stroke-width='4.9'/><line x1='881.07' y1='940.91' x2='887.40' y2='932.91' stroke='#a9a9a9' stroke-width='4.9'/><line x1='885.52' y1='944.75' x2='892.51' y2='937.32' stroke='#a9a9a9' stroke-width='4.9'/><line x1='889.64' y1='948.96' x2='897.22' y2='942.13' stroke='#a9a9a9' stroke-width='4.9'/><line x1='893.40' y1='953.50' x2='901.52' y2='947.33' stroke='#a9a9a9' stroke-width='4.9'/><line x1='896.76' y1='958.33' x2='905.37' y2='952.87' stroke='#a9a9a9' stroke-width='4.9'/><line x1='899.70' y1='963.43' x2='908.74' y2='958.70' stroke='#a9a9a9' stroke-width='4.9'/><line x1='902.21' y1='968.76' x2='911.61' y2='964.80' stroke='#a9a9a9' stroke-width='4.9'/><line x1='904.26' y1='974.28' x2='913.96' y2='971.12' stroke='#a9a9a9' stroke-width='4.9'/><line x1='905.84' y1='979.95' x2='915.77' y2='977.62' stroke='#a9a9a9' stroke-width='4.9'/><line x1='906.95' y1='985.73' x2='917.04' y2='984.24' stroke='#a9a9a9' stroke-width='4.9'/><line x1='907.56' y1='991.59' x2='917.74' y2='990.95' stroke='#a9a9a9' stroke-width='4.9'/><line x1='907.68' y1='997.47' x2='917.88' y2='997.69' stroke='#a9a9a9' stroke-width='4.9'/><line x1='907.31' y1='1003.35' x2='917.46' y2='1004.41' stroke='#a9a9a9' stroke-width='4.9'/><line x1='906.45' y1='1009.17' x2='916.47' y2='1011.08' stroke='#a9a9a9' stroke-width='4.9'/><line x1='905.11' y1='1014.91' x2='914.93' y2='1017.65' stroke='#a9a9a9' stroke-width='4.9'/><line x1='903.29' y1='1020.50' x2='912.85' y2='1024.06' stroke='#a9a9a9' stroke-width='4.9'/><line x1='901.01' y1='1025.93' x2='910.24' y2='1030.28' stroke='#a9a9a9' stroke-width='4.9'/><line x1='898.28' y1='1031.15' x2='907.12' y2='1036.25' stroke='#a9a9a9' stroke-width='4.9'/><line x1='781.54' y1='1028.25' x2='776.78' y2='1031.00' stroke='#888' stroke-width='0.8'/><line x1='776.06' y1='976.07' x2='770.83' y2='974.37' stroke='#888' stroke-width='0.8'/><line x1='811.17' y1='937.08' x2='808.93' y2='932.05' stroke='#888' stroke-width='0.8'/><line x1='863.63' y1='937.08' x2='865.87' y2='932.05' stroke='#888' stroke-width='0.8'/><line x1='898.74' y1='976.07' x2='903.97' y2='974.37' stroke='#888' stroke-width='0.8'/><line x1='893.26' y1='1028.25' x2='898.02' y2='1031.00' stroke='#888' stroke-width='0.8'/><text x='786.90' y='1027.30' text-anchor='middle' font-size='12' fill='#333'>0</text><text x='786.99' y='983.92' text-anchor='middle' font-size='12' fill='#333'>200</text><text x='815.84' y='951.88' text-anchor='middle' font-size='12' fill='#333'>400</text><text x='858.96' y='951.88' text-anchor='middle' font-size='12' fill='#333'>600</text><text x='887.81' y='983.92' text-anchor='middle' font-size='12' fill='#333'>800</text><text x='879.40' y='1027.30' text-anchor='middle' font-size='12' fill='#333'>1000</text><path d='M836.86 995.04 L775.62 1030.98 L837.94 996.96 Z' fill='#ec7516'/><circle cx='837.4' cy='996' r='4.4' fill='#ee8226'/><text x='837.4' y='1075' text-anchor='middle' font-size='19' fill='#333'>2</text><text x='837.4' y='1089' text-anchor='middle' font-size='14.3' fill='#a5a5a5'>Approval Pending</text></svg></div><svg class='abs' style='left:947px;top:874px' width='92' height='13' viewBox='0 0 92 13'><g fill='#1565cf' stroke='none'><rect x='1' y='0.3' width='9' height='1.4'/><path d='M1 2.6 L10 2.6 L6.6 6.8 L6.6 10.6 L4.4 12 L4.4 6.8 Z'/><rect x='17.6' y='0.6' width='9.6' height='11' fill='none' stroke='#1565cf' stroke-width='1.2'/><rect x='17.6' y='0.6' width='9.6' height='2'/><rect x='20' y='4' width='5' height='1' opacity='.8'/><rect x='20' y='6' width='5' height='1' opacity='.8'/><rect x='20' y='8' width='5' height='1' opacity='.8'/><circle cx='39.2' cy='6.2' r='5.3'/></g><path d='M37.3 4.9 Q37.3 3.1 39.2 3.1 Q41 3.1 41 4.6 Q41 5.6 39.9 6.1 Q39.2 6.5 39.2 7.5' stroke='#fff' stroke-width='1.3' fill='none'/><circle cx='39.2' cy='9.2' r='0.8' fill='#fff'/><path d='M51.8 5.6 A4.4 4.4 0 0 1 59.6 3.6' stroke='#1565cf' stroke-width='1.6' fill='none'/><path d='M61.2 0.9 L61.2 5.2 L56.9 5.2 Z' fill='#1565cf'/><path d='M60.4 7 A4.4 4.4 0 0 1 52.6 9' stroke='#1565cf' stroke-width='1.6' fill='none'/><path d='M51 11.7 L51 7.4 L55.3 7.4 Z' fill='#1565cf'/><g fill='#1565cf'><rect x='72.8' y='0.5' width='2.2' height='5'/><path d='M70.2 5 L77.6 5 L73.9 9 Z'/><rect x='68.6' y='10.3' width='10.6' height='1.8'/><rect x='68.6' y='7.6' width='1.6' height='4'/><rect x='77.6' y='7.6' width='1.6' height='4'/><circle cx='89.8' cy='2.2' r='1.15'/><circle cx='89.8' cy='6.2' r='1.15'/><circle cx='89.8' cy='10.2' r='1.15'/></g></svg>
<div class='card' style='left:1059px;top:867px;width:826px;height:249px;'><div class='ct'>Month Wise Work Orders (in Lakhs)</div><svg class='abs' style='left:-1px;top:-1px' width='826' height='249' viewBox='1059 867 826 249' font-family="Liberation Sans" font-size='10' fill='#333'><line x1='1095' y1='904.7' x2='1750' y2='904.7' stroke='#f5f5f6'/><line x1='1091' y1='904.7' x2='1095' y2='904.7' stroke='#f5f5f6'/><text x='1087' y='908.2' text-anchor='end' font-size='10' fill='#dcdcdc'>1.20</text><line x1='1095' y1='936.7' x2='1750' y2='936.7' stroke='#f5f5f6'/><line x1='1091' y1='936.7' x2='1095' y2='936.7' stroke='#f5f5f6'/><text x='1087' y='940.2' text-anchor='end' font-size='10' fill='#dcdcdc'>1.00</text><line x1='1095' y1='968.8' x2='1750' y2='968.8' stroke='#f5f5f6'/><line x1='1091' y1='968.8' x2='1095' y2='968.8' stroke='#f5f5f6'/><text x='1087' y='972.3' text-anchor='end' font-size='10' fill='#dcdcdc'>0.80</text><line x1='1095' y1='1000.8' x2='1750' y2='1000.8' stroke='#f5f5f6'/><line x1='1091' y1='1000.8' x2='1095' y2='1000.8' stroke='#f5f5f6'/><text x='1087' y='1004.3' text-anchor='end' font-size='10' fill='#dcdcdc'>0.60</text><line x1='1095' y1='1032.8' x2='1750' y2='1032.8' stroke='#f5f5f6'/><line x1='1091' y1='1032.8' x2='1095' y2='1032.8' stroke='#f5f5f6'/><text x='1087' y='1036.3' text-anchor='end' font-size='10' fill='#dcdcdc'>0.40</text><line x1='1095' y1='1064.9' x2='1750' y2='1064.9' stroke='#f5f5f6'/><line x1='1091' y1='1064.9' x2='1095' y2='1064.9' stroke='#f5f5f6'/><text x='1087' y='1068.4' text-anchor='end' font-size='10' fill='#dcdcdc'>0.20</text><line x1='1095' y1='1096.9' x2='1750' y2='1096.9' stroke='#f5f5f6'/><line x1='1091' y1='1096.9' x2='1095' y2='1096.9' stroke='#f5f5f6'/><text x='1087' y='1100.4' text-anchor='end' font-size='10' fill='#dcdcdc'>0.00</text><line x1='1095' y1='904' x2='1095' y2='1100' stroke='#f5f5f6'/><line x1='1750' y1='904' x2='1750' y2='1100' stroke='#f5f5f6'/><rect x='1760' y='989.5' width='14' height='3' fill='#b9cde0'/><text fill='#e0e0e0' x='1781' y='994.5' font-size='9.6'>Current Month</text><rect x='1760' y='1000.5' width='14' height='3' fill='#fbe0b0'/><text fill='#e0e0e0' x='1781' y='1005.5' font-size='9.6'>Last Month</text><rect x='1760' y='1011.5' width='14' height='3' fill='#cdeaf8'/><text fill='#e0e0e0' x='1781' y='1016.5' font-size='9.6'>Second Last Month</text><circle cx='1409' cy='911' r='10' fill='#eaf4fc'/><rect x='1462' y='917' width='102' height='94' rx='6' fill='#edf5fd'/><rect x='1472' y='932' width='35' height='34' rx='2' fill='#fbfdff'/><rect x='1516' y='932' width='35' height='34' rx='2' fill='#fbfdff'/><path d='M1478 940 L1501 940 L1493 950 L1493 957 L1487 957 L1487 950 Z' fill='#cfe6f8'/><rect x='1483' y='945' width='16' height='2' fill='#fbd36a'/><rect x='1524' y='939' width='3' height='19' fill='#cfe6f8'/><rect x='1531' y='951' width='4' height='7' fill='#fbc850'/><rect x='1539' y='943' width='3' height='15' fill='#cfe6f8'/><rect x='1473' y='976' width='18' height='18' rx='2' fill='#fbfdff'/><rect x='1477' y='981' width='9' height='6' rx='1' fill='#fbc24a'/><rect x='1497' y='979' width='49' height='4' rx='2' fill='#f4f9fe'/><rect x='1497' y='987' width='33' height='4' rx='2' fill='#f4f9fe'/><rect x='1385' y='979' width='41' height='3' fill='#d6e8f8'/><rect x='1402' y='981' width='3' height='76' fill='#d9eaf9'/><rect x='1387' y='1056' width='46' height='2' fill='#dcecf9'/><path d='M1385 962 L1402 962 L1408 979 L1391 979 Z' fill='#c9cdf0'/><rect x='1395' y='976' width='23' height='3' fill='#c3c9ee'/><path d='M1447 928 Q1457 928 1458 940 Q1458 950 1452 956 Q1440 966 1431 967 Q1420 962 1422 950 Q1425 940 1438 939 Q1440 930 1447 928 Z' fill='#2f66ab'/><path d='M1446 929 Q1455 929 1456 940 L1450 941 Z' fill='#3b7fcc'/><path d='M1449 937 Q1455 936 1455.5 943 Q1455 949 1450 950 Q1447 947 1449 937 Z' fill='#f6c3a2'/><path d='M1434 953 Q1443 949 1457 951 Q1461 966 1459 982 L1440 983 Q1435 970 1434 953 Z' fill='#ecf7fd'/><path d='M1459 952 L1484 944 L1487 946 L1461 957 Z' fill='#f5b896'/><path d='M1484 943 L1490 941 L1488 946 Z' fill='#fbd36a'/><path d='M1437 962 Q1440 978 1459 978 L1460 982 Q1438 983 1434 965 Z' fill='#f5b896'/><path d='M1439 982 L1457 982 L1455 1020 L1454 1051 L1448 1051 L1447 1015 L1445 1051 L1434 1051 L1437 1010 Z' fill='#5fcaa0'/><path d='M1439 983 L1446 983 L1445 1051 L1434 1051 L1437 1010 Z' fill='#38a4c6'/><path d='M1435 1050 L1445 1050 L1446 1055 L1434 1055 Z' fill='#6c71d2'/><path d='M1450 1050 L1457 1050 L1462 1055 L1450 1055 Z' fill='#6c71d2'/><path d='M1549 1005 Q1556 1010 1555 1022 Q1559 1030 1553 1040 L1545 1040 Q1540 1030 1544 1022 Q1542 1012 1549 1005 Z' fill='#5cbd70'/><path d='M1541 1043 L1558 1043 L1556 1056 L1543 1056 Z' fill='#c8cef2'/><rect x='1530' y='1056' width='40' height='2' fill='#dcecf9'/><text x='1472' y='1092' text-anchor='middle' font-size='21' letter-spacing='0.8' fill='#a3a3a3'>No data available</text></svg></div><svg class='abs' style='left:1785px;top:874px' width='92' height='13' viewBox='0 0 92 13'><g fill='#1565cf' stroke='none'><rect x='1' y='0.3' width='9' height='1.4'/><path d='M1 2.6 L10 2.6 L6.6 6.8 L6.6 10.6 L4.4 12 L4.4 6.8 Z'/><rect x='17.6' y='0.6' width='9.6' height='11' fill='none' stroke='#1565cf' stroke-width='1.2'/><rect x='17.6' y='0.6' width='9.6' height='2'/><rect x='20' y='4' width='5' height='1' opacity='.8'/><rect x='20' y='6' width='5' height='1' opacity='.8'/><rect x='20' y='8' width='5' height='1' opacity='.8'/><circle cx='39.2' cy='6.2' r='5.3'/></g><path d='M37.3 4.9 Q37.3 3.1 39.2 3.1 Q41 3.1 41 4.6 Q41 5.6 39.9 6.1 Q39.2 6.5 39.2 7.5' stroke='#fff' stroke-width='1.3' fill='none'/><circle cx='39.2' cy='9.2' r='0.8' fill='#fff'/><path d='M51.8 5.6 A4.4 4.4 0 0 1 59.6 3.6' stroke='#1565cf' stroke-width='1.6' fill='none'/><path d='M61.2 0.9 L61.2 5.2 L56.9 5.2 Z' fill='#1565cf'/><path d='M60.4 7 A4.4 4.4 0 0 1 52.6 9' stroke='#1565cf' stroke-width='1.6' fill='none'/><path d='M51 11.7 L51 7.4 L55.3 7.4 Z' fill='#1565cf'/><g fill='#1565cf'><rect x='72.8' y='0.5' width='2.2' height='5'/><path d='M70.2 5 L77.6 5 L73.9 9 Z'/><rect x='68.6' y='10.3' width='10.6' height='1.8'/><rect x='68.6' y='7.6' width='1.6' height='4'/><rect x='77.6' y='7.6' width='1.6' height='4'/><circle cx='89.8' cy='2.2' r='1.15'/><circle cx='89.8' cy='6.2' r='1.15'/><circle cx='89.8' cy='10.2' r='1.15'/></g></svg>
<div class='card' style='left:222px;top:1130px;width:825px;height:130px;'><div class='ct'>Project Wise WO vs Service Bills</div><svg class='abs' style='left:-1px;top:-1px' width='825' height='130' viewBox='222 1130 825 130' font-family="Liberation Sans" font-size='10' fill='#333'><line x1='259.8' y1='1168.6' x2='946.5' y2='1168.6' stroke='#e2e2e2'/><line x1='259.8' y1='1187.8' x2='946.5' y2='1187.8' stroke='#e2e2e2'/><line x1='946.5' y1='1168.6' x2='946.5' y2='1260' stroke='#e2e2e2'/><line x1='254.8' y1='1168.6' x2='259.8' y2='1168.6' stroke='#9a9a9a'/><text x='251.8' y='1172.1' text-anchor='end' font-size='9.6'>40k</text><line x1='254.8' y1='1187.8' x2='259.8' y2='1187.8' stroke='#9a9a9a'/><text x='251.8' y='1191.3' text-anchor='end' font-size='9.6'>35k</text><line x1='254.8' y1='1207' x2='259.8' y2='1207' stroke='#9a9a9a'/><text x='251.8' y='1210.5' text-anchor='end' font-size='9.6'>30k</text><line x1='259.8' y1='1168.6' x2='259.8' y2='1260' stroke='#9a9a9a'/><rect x='407' y='1186.5' width='197' height='80' fill='#1269a3'/></svg></div><svg class='abs' style='left:947px;top:1137px' width='92' height='13' viewBox='0 0 92 13'><g fill='#1565cf' stroke='none'><rect x='1' y='0.3' width='9' height='1.4'/><path d='M1 2.6 L10 2.6 L6.6 6.8 L6.6 10.6 L4.4 12 L4.4 6.8 Z'/><rect x='17.6' y='0.6' width='9.6' height='11' fill='none' stroke='#1565cf' stroke-width='1.2'/><rect x='17.6' y='0.6' width='9.6' height='2'/><rect x='20' y='4' width='5' height='1' opacity='.8'/><rect x='20' y='6' width='5' height='1' opacity='.8'/><rect x='20' y='8' width='5' height='1' opacity='.8'/><circle cx='39.2' cy='6.2' r='5.3'/></g><path d='M37.3 4.9 Q37.3 3.1 39.2 3.1 Q41 3.1 41 4.6 Q41 5.6 39.9 6.1 Q39.2 6.5 39.2 7.5' stroke='#fff' stroke-width='1.3' fill='none'/><circle cx='39.2' cy='9.2' r='0.8' fill='#fff'/><path d='M51.8 5.6 A4.4 4.4 0 0 1 59.6 3.6' stroke='#1565cf' stroke-width='1.6' fill='none'/><path d='M61.2 0.9 L61.2 5.2 L56.9 5.2 Z' fill='#1565cf'/><path d='M60.4 7 A4.4 4.4 0 0 1 52.6 9' stroke='#1565cf' stroke-width='1.6' fill='none'/><path d='M51 11.7 L51 7.4 L55.3 7.4 Z' fill='#1565cf'/><g fill='#1565cf'><rect x='72.8' y='0.5' width='2.2' height='5'/><path d='M70.2 5 L77.6 5 L73.9 9 Z'/><rect x='68.6' y='10.3' width='10.6' height='1.8'/><rect x='68.6' y='7.6' width='1.6' height='4'/><rect x='77.6' y='7.6' width='1.6' height='4'/><circle cx='89.8' cy='2.2' r='1.15'/><circle cx='89.8' cy='6.2' r='1.15'/><circle cx='89.8' cy='10.2' r='1.15'/></g></svg>
<div class='card' style='left:1059px;top:1130px;width:826px;height:130px;'><div class='ct'>Running Bills- Contractor Wise</div><svg class='abs' style='left:-1px;top:-1px' width='826' height='130' viewBox='1059 1130 826 130' font-family="Liberation Sans" font-size='10' fill='#333'><line x1='1108' y1='1168.6' x2='1802.6' y2='1168.6' stroke='#e2e2e2'/><line x1='1103' y1='1168.6' x2='1108' y2='1168.6' stroke='#9a9a9a'/><text x='1100' y='1172.1' text-anchor='end' font-size='9.6'>25000k</text><line x1='1108' y1='1194' x2='1802.6' y2='1194' stroke='#e2e2e2'/><line x1='1103' y1='1194' x2='1108' y2='1194' stroke='#9a9a9a'/><text x='1100' y='1197.5' text-anchor='end' font-size='9.6'>20000k</text><line x1='1340' y1='1168.6' x2='1340' y2='1260' stroke='#e2e2e2'/><line x1='1571.4' y1='1168.6' x2='1571.4' y2='1260' stroke='#e2e2e2'/><line x1='1802.6' y1='1168.6' x2='1802.6' y2='1260' stroke='#e2e2e2'/><line x1='1108' y1='1168.6' x2='1108' y2='1260' stroke='#9a9a9a'/><rect x='1177.5' y='1178.6' width='93.5' height='90' fill='#1269a3'/></svg></div><svg class='abs' style='left:1785px;top:1137px' width='92' height='13' viewBox='0 0 92 13'><g fill='#1565cf' stroke='none'><rect x='1' y='0.3' width='9' height='1.4'/><path d='M1 2.6 L10 2.6 L6.6 6.8 L6.6 10.6 L4.4 12 L4.4 6.8 Z'/><rect x='17.6' y='0.6' width='9.6' height='11' fill='none' stroke='#1565cf' stroke-width='1.2'/><rect x='17.6' y='0.6' width='9.6' height='2'/><rect x='20' y='4' width='5' height='1' opacity='.8'/><rect x='20' y='6' width='5' height='1' opacity='.8'/><rect x='20' y='8' width='5' height='1' opacity='.8'/><circle cx='39.2' cy='6.2' r='5.3'/></g><path d='M37.3 4.9 Q37.3 3.1 39.2 3.1 Q41 3.1 41 4.6 Q41 5.6 39.9 6.1 Q39.2 6.5 39.2 7.5' stroke='#fff' stroke-width='1.3' fill='none'/><circle cx='39.2' cy='9.2' r='0.8' fill='#fff'/><path d='M51.8 5.6 A4.4 4.4 0 0 1 59.6 3.6' stroke='#1565cf' stroke-width='1.6' fill='none'/><path d='M61.2 0.9 L61.2 5.2 L56.9 5.2 Z' fill='#1565cf'/><path d='M60.4 7 A4.4 4.4 0 0 1 52.6 9' stroke='#1565cf' stroke-width='1.6' fill='none'/><path d='M51 11.7 L51 7.4 L55.3 7.4 Z' fill='#1565cf'/><g fill='#1565cf'><rect x='72.8' y='0.5' width='2.2' height='5'/><path d='M70.2 5 L77.6 5 L73.9 9 Z'/><rect x='68.6' y='10.3' width='10.6' height='1.8'/><rect x='68.6' y='7.6' width='1.6' height='4'/><rect x='77.6' y='7.6' width='1.6' height='4'/><circle cx='89.8' cy='2.2' r='1.15'/><circle cx='89.8' cy='6.2' r='1.15'/><circle cx='89.8' cy='10.2' r='1.15'/></g></svg>
<div class='abs' style='left:1902px;top:433px;width:45px;height:46px;border-radius:50%;background:#0b3e74;box-shadow:0 0 4px rgba(0,0,0,.2)'></div>
<svg class='abs' style='left:1900px;top:430px' width='20' height='50' viewBox='0 0 20 50'><path d='M16 12 L8.5 19 L16 26 Z' fill='#fff'/><circle cx='12.5' cy='38' r='5' stroke='#3d84e0' stroke-width='1' fill='none'/></svg>
<div class='abs' style='left:1917px;top:0;width:3px;height:1205px;background:#fff'></div>
<div class='abs' style='left:0;top:1203px;width:1920px;height:2px;background:#fff'></div>
<div class='abs' style='left:0;top:0;width:2px;height:1205px;background:#fff'></div>
</body></html>
